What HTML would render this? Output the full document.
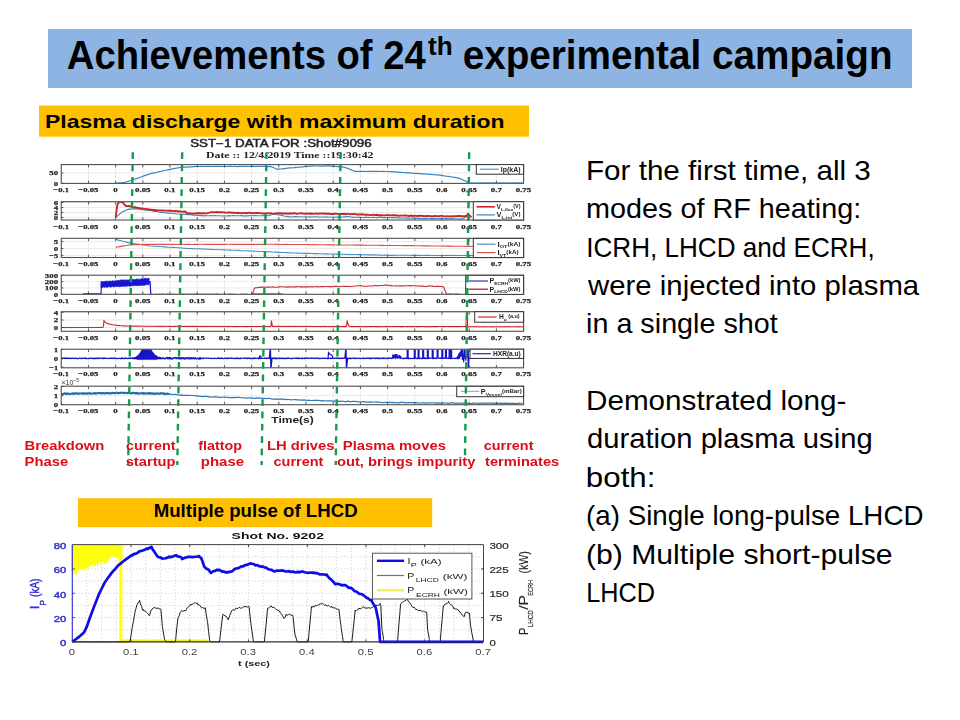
<!DOCTYPE html>
<html><head><meta charset="utf-8"><title>Achievements of 24th experimental campaign</title>
<style>html,body{margin:0;padding:0;background:#fff;width:960px;height:720px;overflow:hidden}
svg{display:block} text{font-family:"Liberation Sans",sans-serif} .sf{font-family:"Liberation Serif",serif}</style></head>
<body><svg width="960" height="720" viewBox="0 0 960 720">
<rect width="960" height="720" fill="#fff"/>
<rect x="48" y="29" width="864" height="59" fill="#8EB4E3"/>
<text x="66.84" y="68.6" font-size="40" fill="#000" font-weight="bold" textLength="358.87" lengthAdjust="spacingAndGlyphs" >Achievements of 24</text>
<text x="428" y="55" font-size="25" fill="#000" font-weight="bold" textLength="24.68" lengthAdjust="spacingAndGlyphs" >th</text>
<text x="462.67" y="68.6" font-size="40" fill="#000" font-weight="bold" textLength="429.86" lengthAdjust="spacingAndGlyphs" >experimental campaign</text>
<rect x="39" y="105.5" width="490" height="31.2" fill="#FFC000"/>
<text x="45.06" y="128.4" font-size="18.5" fill="#000" font-weight="bold" textLength="459.52" lengthAdjust="spacingAndGlyphs" >Plasma discharge with maximum duration</text>
<rect x="78" y="498.2" width="354.2" height="29" fill="#FFC000"/>
<text x="153.66" y="517.4" font-size="18" fill="#000" font-weight="bold" textLength="203.97" lengthAdjust="spacingAndGlyphs" >Multiple pulse of LHCD</text>
<text x="585.98" y="180" font-size="28" fill="#000" textLength="284.87" lengthAdjust="spacingAndGlyphs" >For the first time, all 3</text>
<text x="586.04" y="218.35" font-size="28" fill="#000" textLength="275.24" lengthAdjust="spacingAndGlyphs" >modes of RF heating:</text>
<text x="586.24" y="256.7" font-size="28" fill="#000" textLength="288.42" lengthAdjust="spacingAndGlyphs" >ICRH, LHCD and ECRH,</text>
<text x="588.1" y="295.05" font-size="28" fill="#000" textLength="331.05" lengthAdjust="spacingAndGlyphs" >were injected into plasma</text>
<text x="586.05" y="333.4" font-size="28" fill="#000" textLength="191.74" lengthAdjust="spacingAndGlyphs" >in a single shot</text>
<text x="585.98" y="410.1" font-size="28" fill="#000" textLength="260.48" lengthAdjust="spacingAndGlyphs" >Demonstrated long-</text>
<text x="587.06" y="448.45" font-size="28" fill="#000" textLength="285.58" lengthAdjust="spacingAndGlyphs" >duration plasma using</text>
<text x="585.87" y="486.8" font-size="28" fill="#000" textLength="69.58" lengthAdjust="spacingAndGlyphs" >both:</text>
<text x="586.12" y="525.15" font-size="28" fill="#000" textLength="337.3" lengthAdjust="spacingAndGlyphs" >(a) Single long-pulse LHCD</text>
<text x="585.95" y="563.5" font-size="28" fill="#000" textLength="306.7" lengthAdjust="spacingAndGlyphs" >(b) Multiple short-pulse</text>
<text x="586.29" y="601.85" font-size="28" fill="#000" textLength="68.82" lengthAdjust="spacingAndGlyphs" >LHCD</text>
<defs><filter id="soft" x="-2%" y="-2%" width="104%" height="104%"><feGaussianBlur stdDeviation="0.32"/></filter></defs>
<g filter="url(#soft)">
<text x="190.2" y="146.6" font-size="10" fill="#222" textLength="181.5" lengthAdjust="spacingAndGlyphs" stroke="#222" stroke-width="0.45">SST−1 DATA FOR :Shot#9096</text>
<text x="206" y="157.8" font-size="8.2" fill="#222" font-weight="bold" textLength="167.5" lengthAdjust="spacingAndGlyphs" class="sf">Date :: 12/4/2019  Time ::19:30:42</text>
<path d="M88.46,164.6V183.4 M115.65,164.6V183.4 M142.84,164.6V183.4 M170.04,164.6V183.4 M197.24,164.6V183.4 M224.43,164.6V183.4 M251.62,164.6V183.4 M278.82,164.6V183.4 M306.01,164.6V183.4 M333.21,164.6V183.4 M360.4,164.6V183.4 M387.6,164.6V183.4 M414.8,164.6V183.4 M441.99,164.6V183.4 M469.19,164.6V183.4 M496.38,164.6V183.4 M61.25,172.9H523.6" stroke="#e6e6e6" stroke-width="0.8" fill="none"/>
<clipPath id="c0"><rect x="61.25" y="164.6" width="462.35" height="18.8"/></clipPath>
<path d="M88.46,201.7V220 M115.65,201.7V220 M142.84,201.7V220 M170.04,201.7V220 M197.24,201.7V220 M224.43,201.7V220 M251.62,201.7V220 M278.82,201.7V220 M306.01,201.7V220 M333.21,201.7V220 M360.4,201.7V220 M387.6,201.7V220 M414.8,201.7V220 M441.99,201.7V220 M469.19,201.7V220 M496.38,201.7V220 M61.25,217.5H523.6 M61.25,212.5H523.6 M61.25,207.5H523.6 M61.25,202.5H523.6" stroke="#e6e6e6" stroke-width="0.8" fill="none"/>
<clipPath id="c1"><rect x="61.25" y="201.7" width="462.35" height="18.3"/></clipPath>
<path d="M88.46,238.3V257.5 M115.65,238.3V257.5 M142.84,238.3V257.5 M170.04,238.3V257.5 M197.24,238.3V257.5 M224.43,238.3V257.5 M251.62,238.3V257.5 M278.82,238.3V257.5 M306.01,238.3V257.5 M333.21,238.3V257.5 M360.4,238.3V257.5 M387.6,238.3V257.5 M414.8,238.3V257.5 M441.99,238.3V257.5 M469.19,238.3V257.5 M496.38,238.3V257.5 M61.25,255.4H523.6 M61.25,248.5H523.6 M61.25,241.6H523.6" stroke="#e6e6e6" stroke-width="0.8" fill="none"/>
<clipPath id="c2"><rect x="61.25" y="238.3" width="462.35" height="19.2"/></clipPath>
<path d="M88.46,275.2V294.3 M115.65,275.2V294.3 M142.84,275.2V294.3 M170.04,275.2V294.3 M197.24,275.2V294.3 M224.43,275.2V294.3 M251.62,275.2V294.3 M278.82,275.2V294.3 M306.01,275.2V294.3 M333.21,275.2V294.3 M360.4,275.2V294.3 M387.6,275.2V294.3 M414.8,275.2V294.3 M441.99,275.2V294.3 M469.19,275.2V294.3 M496.38,275.2V294.3 M61.25,287.93H523.6 M61.25,281.57H523.6" stroke="#e6e6e6" stroke-width="0.8" fill="none"/>
<clipPath id="c3"><rect x="61.25" y="275.2" width="462.35" height="19.1"/></clipPath>
<path d="M88.46,311.7V331.3 M115.65,311.7V331.3 M142.84,311.7V331.3 M170.04,311.7V331.3 M197.24,311.7V331.3 M224.43,311.7V331.3 M251.62,311.7V331.3 M278.82,311.7V331.3 M306.01,311.7V331.3 M333.21,311.7V331.3 M360.4,311.7V331.3 M387.6,311.7V331.3 M414.8,311.7V331.3 M441.99,311.7V331.3 M469.19,311.7V331.3 M496.38,311.7V331.3 M61.25,327.5H523.6 M61.25,320H523.6 M61.25,312.5H523.6" stroke="#e6e6e6" stroke-width="0.8" fill="none"/>
<clipPath id="c4"><rect x="61.25" y="311.7" width="462.35" height="19.6"/></clipPath>
<path d="M88.46,349.2V367.8 M115.65,349.2V367.8 M142.84,349.2V367.8 M170.04,349.2V367.8 M197.24,349.2V367.8 M224.43,349.2V367.8 M251.62,349.2V367.8 M278.82,349.2V367.8 M306.01,349.2V367.8 M333.21,349.2V367.8 M360.4,349.2V367.8 M387.6,349.2V367.8 M414.8,349.2V367.8 M441.99,349.2V367.8 M469.19,349.2V367.8 M496.38,349.2V367.8 M61.25,367.1H523.6 M61.25,358.3H523.6" stroke="#e6e6e6" stroke-width="0.8" fill="none"/>
<clipPath id="c5"><rect x="61.25" y="349.2" width="462.35" height="18.6"/></clipPath>
<path d="M88.46,386.2V404.7 M115.65,386.2V404.7 M142.84,386.2V404.7 M170.04,386.2V404.7 M197.24,386.2V404.7 M224.43,386.2V404.7 M251.62,386.2V404.7 M278.82,386.2V404.7 M306.01,386.2V404.7 M333.21,386.2V404.7 M360.4,386.2V404.7 M387.6,386.2V404.7 M414.8,386.2V404.7 M441.99,386.2V404.7 M469.19,386.2V404.7 M496.38,386.2V404.7 M61.25,395.6H523.6" stroke="#e6e6e6" stroke-width="0.8" fill="none"/>
<clipPath id="c6"><rect x="61.25" y="386.2" width="462.35" height="18.5"/></clipPath>
<g clip-path="url(#c0)">
<polyline points="115.65,183.33 117.83,183.14 120,182.83 122.18,182.71 124.35,182.31 126.53,181.73 128.7,181.18 130.88,180.5 133.05,179.89 135.23,179.04 137.41,178.32 139.58,177.53 141.76,176.69 143.93,175.84 146.11,175.18 148.28,174.38 150.46,173.67 152.64,173.12 154.81,172.69 156.99,172.23 159.16,171.63 161.34,171.29 163.51,170.66 165.69,170.26 167.86,169.79 170.04,169.33 172.22,168.92 174.39,168.46 176.57,168.19 178.74,167.74 180.92,167.36 183.09,167.22 185.27,167.08 187.44,167.04 189.62,166.93 191.8,166.79 193.97,166.59 196.15,166.52 198.32,166.48 200.5,166.44 202.67,166.46 204.85,166.49 207.03,166.4 209.2,166.42 211.38,166.49 213.55,166.44 215.73,166.45 217.9,166.39 220.08,166.41 222.25,166.49 224.43,166.37 226.61,166.52 228.78,166.47 230.96,166.41 233.13,166.51 235.31,166.45 237.48,166.53 239.66,166.42 241.83,166.41 244.01,166.44 246.19,166.39 248.36,166.48 250.54,166.42 252.71,166.44 254.89,166.44 257.06,166.46 259.24,166.4 261.42,166.38 263.59,166.46 265.77,166.42 267.94,166.53 270.12,166.42 272.29,167.05 274.47,168 276.64,169.21 278.82,169.16 281,169 283.17,168.71 285.35,168.54 287.52,168.19 289.7,167.96 291.87,167.8 294.05,167.63 296.22,167.34 298.4,167.27 300.58,167.06 302.75,166.81 304.93,166.49 307.1,166.39 309.28,166.1 311.45,166.03 313.63,165.97 315.81,165.98 317.98,165.98 320.16,166.07 322.33,166.05 324.51,166.06 326.68,165.97 328.86,165.96 331.03,166.09 333.21,166.09 335.39,166.31 337.56,166.53 339.74,166.72 341.91,166.93 344.09,167.21 346.26,167.83 348.44,168.68 350.61,169.62 352.79,170.51 354.97,171.37 357.14,171.41 359.32,171.44 361.49,171.42 363.67,171.41 365.84,171.52 368.02,171.38 370.2,171.4 372.37,171.38 374.55,171.39 376.72,171.46 378.9,171.46 381.07,171.51 383.25,171.42 385.42,171.52 387.6,171.52 389.78,171.53 391.95,171.7 394.13,171.83 396.3,172.04 398.48,172.21 400.65,172.35 402.83,172.52 405,172.64 407.18,172.86 409.36,172.88 411.53,173.07 413.71,173.3 415.88,173.43 418.06,173.57 420.23,173.72 422.41,173.91 424.59,173.94 426.76,174.07 428.94,174.3 431.11,174.45 433.29,174.67 435.46,174.82 437.64,174.93 439.81,175.18 441.99,175.41 444.17,175.85 446.34,176.19 448.52,176.36 450.69,176.75 452.87,177.14 455.04,177.4 457.22,177.81 459.39,178.38 461.57,179.29 463.75,180.3 465.92,181.32 468.1,182.61 470.27,183.32 472.45,183.36 474.62,183.25 476.8,183.29 478.98,183.25 481.15,183.33 483.33,183.35 485.5,183.25 487.68,183.22 489.85,183.24 492.03,183.25 494.2,183.25 496.38,183.26 498.56,183.35 500.73,183.3 502.91,183.32 505.08,183.38 507.26,183.38 509.43,183.34 511.61,183.34 513.78,183.27 515.96,183.22 518.14,183.31 520.31,183.23 522.49,183.22" fill="none" stroke="#3a86c0" stroke-width="1.2" stroke-linejoin="round" />
</g>
<g clip-path="url(#c1)">
<polyline points="115.65,217.32 117.28,216.12 118.91,214.74 120.55,213.3 122.18,211.87 123.81,211.24 125.44,210.45 127.07,209.71 128.7,209.11 130.34,209.13 131.97,208.94 133.6,208.76 135.23,208.92 136.86,208.88 138.49,208.98 140.13,209.22 141.76,209.43 143.39,209.74 145.02,210.05 146.65,210 148.28,210.4 149.92,210.45 151.55,210.63 153.18,211.1 154.81,211.34 156.44,211.37 158.07,211.7 159.71,212.16 161.34,212.42 162.97,212.65 164.6,212.6 166.23,212.88 167.86,213.27 169.5,213.13 171.13,213.19 172.76,213.45 174.39,213.7 176.02,213.75 177.65,214.05 179.29,214.22 180.92,213.97 182.55,214.23 184.18,214.4 185.81,214.36 187.44,214.67 189.08,214.61 190.71,214.74 192.34,215.09 193.97,215.19 195.6,215.28 197.24,215.41 198.87,215.38 200.5,215.63 202.13,215.67 203.76,215.9 205.39,215.59 207.03,215.81 208.66,215.77 210.29,215.72 211.92,215.59 213.55,215.78 215.18,215.58 216.82,215.75 218.45,215.74 220.08,215.74 221.71,215.94 223.34,215.77 224.97,215.88 226.61,215.95 228.24,215.63 229.87,215.88 231.5,215.76 233.13,215.66 234.76,215.73 236.4,215.82 238.03,215.74 239.66,215.73 241.29,215.64 242.92,215.91 244.55,215.73 246.19,215.85 247.82,215.84 249.45,215.64 251.08,215.75 252.71,215.73 254.34,215.65 255.98,215.59 257.61,215.77 259.24,215.7 260.87,215.75 262.5,215.75 264.13,215.67 265.77,215.77 267.4,215.74 269.03,215.76 270.66,215.07 272.29,214.42 273.92,213.95 275.56,214.22 277.19,214.8 278.82,214.98 280.45,215.09 282.08,215.39 283.72,215.93 285.35,216.2 286.98,216.34 288.61,216.75 290.24,216.86 291.87,216.94 293.51,216.71 295.14,216.67 296.77,216.64 298.4,216.95 300.03,216.73 301.66,216.77 303.3,216.99 304.93,216.7 306.56,216.68 308.19,216.99 309.82,216.71 311.45,216.94 313.09,216.92 314.72,216.73 316.35,216.8 317.98,217.08 319.61,216.98 321.24,216.96 322.88,217.04 324.51,217.11 326.14,217.07 327.77,216.92 329.4,217.22 331.03,217.01 332.67,217.07 334.3,217.25 335.93,217.14 337.56,217.03 339.19,217.09 340.82,217.28 342.46,216.92 344.09,217.01 345.72,216.66 347.35,216.72 348.98,216.59 350.61,217.06 352.25,217.14 353.88,217.35 355.51,217.42 357.14,217.32 358.77,217.13 360.41,217.18 362.04,217.42 363.67,217.47 365.3,217.17 366.93,217.33 368.56,217.29 370.2,217.54 371.83,217.57 373.46,217.32 375.09,217.44 376.72,217.59 378.35,217.26 379.99,217.39 381.62,217.34 383.25,217.64 384.88,217.34 386.51,217.67 388.14,217.37 389.78,217.57 391.41,217.66 393.04,217.62 394.67,217.51 396.3,217.82 397.93,217.91 399.57,217.79 401.2,217.95 402.83,218.05 404.46,218.07 406.09,218.15 407.72,218.13 409.36,218.13 410.99,218.18 412.62,218.04 414.25,218.26 415.88,218.22 417.51,218.39 419.15,218.37 420.78,218.54 422.41,218.49 424.04,218.62 425.67,218.38 427.3,218.49 428.94,218.68 430.57,218.61 432.2,218.47 433.83,218.84 435.46,218.59 437.09,218.78 438.73,218.75 440.36,218.62 441.99,218.79 443.62,218.75 445.25,218.67 446.89,218.56 448.52,218.81 450.15,218.62 451.78,218.67 453.41,218.7 455.04,218.79 456.68,218.81 458.31,218.93 459.94,218.9 461.57,218.92 463.2,218.65 464.83,217.47 466.47,215.45 468.1,213.42 469.73,215.66 471.36,217.6" fill="none" stroke="#3a86c0" stroke-width="1.1" stroke-linejoin="round" />
<polyline points="115.65,217.4 117.28,205.13 118.91,201.93 120.55,201.99 122.18,201.97 123.81,203.96 125.44,205.73 127.07,206.14 128.7,206.02 130.34,206.32 131.97,206.87 133.6,207.31 135.23,207.12 136.86,207.76 138.49,207.97 140.13,208.42 141.76,208.44 143.39,208.62 145.02,208.85 146.65,209.27 148.28,209.29 149.92,209.72 151.55,209.7 153.18,209.94 154.81,209.88 156.44,210.23 158.07,210.37 159.71,210.34 161.34,210.51 162.97,210.43 164.6,210.6 166.23,210.6 167.86,210.74 169.5,210.79 171.13,210.78 172.76,211.16 174.39,211.28 176.02,210.97 177.65,211.56 179.29,211.3 180.92,211.44 182.55,211.88 184.18,211.49 185.81,211.95 187.44,213.42 189.08,213.36 190.71,213.31 192.34,213.72 193.97,213.49 195.6,213.5 197.24,213.3 198.87,213.32 200.5,213.3 202.13,213.45 203.76,213.26 205.39,213.39 207.03,213.38 208.66,212.91 210.29,212.32 211.92,212.3 213.55,212.22 215.18,212.42 216.82,212.04 218.45,212.25 220.08,212.26 221.71,212.31 223.34,212.33 224.97,212.5 226.61,212.84 228.24,212.41 229.87,212.5 231.5,212.69 233.13,212.72 234.76,212.7 236.4,213.11 238.03,212.76 239.66,213.1 241.29,213.26 242.92,213.16 244.55,212.9 246.19,213.23 247.82,212.92 249.45,212.8 251.08,213.1 252.71,213.19 254.34,213.15 255.98,213.04 257.61,213.01 259.24,213.12 260.87,213.12 262.5,213.47 264.13,213.45 265.77,213.4 267.4,213.12 269.03,213.4 270.66,213.26 272.29,213.61 273.92,213.6 275.56,213.49 277.19,213.27 278.82,213.27 280.45,213.3 282.08,213.55 283.72,213.43 285.35,213.48 286.98,213.49 288.61,213.72 290.24,213.27 291.87,213.69 293.51,213.23 295.14,213.27 296.77,213.83 298.4,213.57 300.03,213.36 301.66,213.28 303.3,213.6 304.93,213.72 306.56,213.76 308.19,213.33 309.82,213.78 311.45,213.56 313.09,213.83 314.72,213.61 316.35,213.36 317.98,213.86 319.61,213.46 321.24,213.66 322.88,213.44 324.51,213.56 326.14,213.85 327.77,213.46 329.4,213.71 331.03,214 332.67,214.02 334.3,213.73 335.93,213.77 337.56,213.86 339.19,213.98 340.82,213.92 342.46,213.99 344.09,213.73 345.72,214.28 347.35,213.89 348.98,213.89 350.61,214.38 352.25,213.95 353.88,214.13 355.51,214.07 357.14,214.49 358.77,214.49 360.41,214.54 362.04,214.23 363.67,214.53 365.3,214.72 366.93,214.73 368.56,214.88 370.2,215.07 371.83,215.09 373.46,214.7 375.09,215.09 376.72,214.75 378.35,215.22 379.99,215.26 381.62,215.17 383.25,215.42 384.88,215.36 386.51,215.07 388.14,215.15 389.78,215.22 391.41,215.35 393.04,215.21 394.67,215.22 396.3,215.48 397.93,215.4 399.57,215.83 401.2,215.44 402.83,215.64 404.46,215.48 406.09,215.57 407.72,215.81 409.36,215.98 410.99,215.48 412.62,215.98 414.25,215.8 415.88,215.9 417.51,215.95 419.15,215.71 420.78,215.6 422.41,216.05 424.04,215.84 425.67,216.08 427.3,215.95 428.94,216.07 430.57,216.23 432.2,216.26 433.83,216.26 435.46,215.86 437.09,216.13 438.73,216.29 440.36,215.88 441.99,215.83 443.62,216.16 445.25,216.34 446.89,216.31 448.52,216.37 450.15,216.22 451.78,216.37 453.41,216.28 455.04,216.27 456.68,216.08 458.31,215.89 459.94,215.98 461.57,216.18 463.2,216.18 464.83,216.11 466.47,216.2 468.1,213.85 469.73,215.89 471.36,217.01" fill="none" stroke="#c8262c" stroke-width="1.9" stroke-linejoin="round" />
</g>
<g clip-path="url(#c2)">
<polyline points="115.65,239.33 118.37,240.13 121.09,240.77 123.81,241.44 126.53,242.1 129.25,242.88 131.97,243.33 134.69,243.74 137.41,244.12 140.13,244.52 142.84,244.85 145.56,245.27 148.28,245.67 151,246.05 153.72,246.23 156.44,246.32 159.16,246.47 161.88,246.71 164.6,246.87 167.32,247.13 170.04,247.26 172.76,247.36 175.48,247.56 178.2,247.73 180.92,247.9 183.64,248.18 186.36,248.37 189.08,248.55 191.8,248.6 194.52,248.69 197.24,248.76 199.95,248.9 202.67,249.02 205.39,249.11 208.11,249.26 210.83,249.35 213.55,249.53 216.27,249.54 218.99,249.72 221.71,249.73 224.43,249.88 227.15,250.03 229.87,250.17 232.59,250.26 235.31,250.31 238.03,250.41 240.75,250.6 243.47,250.71 246.19,250.76 248.91,250.86 251.63,251.02 254.34,251.17 257.06,251.24 259.78,251.45 262.5,251.54 265.22,251.65 267.94,251.71 270.66,251.88 273.38,251.98 276.1,252.16 278.82,252.33 281.54,252.45 284.26,252.48 286.98,252.65 289.7,252.83 292.42,253 295.14,253.06 297.86,253.17 300.58,253.27 303.3,253.35 306.02,253.36 308.73,253.39 311.45,253.55 314.17,253.64 316.89,253.67 319.61,253.72 322.33,253.75 325.05,253.88 327.77,253.86 330.49,253.93 333.21,254.03 335.93,254.13 338.65,254.09 341.37,254.25 344.09,254.24 346.81,254.38 349.53,254.44 352.25,254.43 354.97,254.55 357.69,254.52 360.41,254.65 363.12,254.75 365.84,254.81 368.56,254.84 371.28,254.87 374,254.89 376.72,255.07 379.44,255.09 382.16,255.18 384.88,255.14 387.6,255.31 390.32,255.33 393.04,255.34 395.76,255.3 398.48,255.24 401.2,255.26 403.92,255.29 406.64,255.26 409.36,255.28 412.08,255.37 414.8,255.4 417.51,255.3 420.23,255.34 422.95,255.45 425.67,255.37 428.39,255.42 431.11,255.43 433.83,255.44 436.55,255.48 439.27,255.51 441.99,255.48 444.71,255.48 447.43,255.4 450.15,255.53 452.87,255.42 455.59,255.54 458.31,255.52 461.03,255.47 463.75,255.48 466.47,255.54 469.19,255.6 471.9,255.55 474.62,255.57" fill="none" stroke="#4a90c8" stroke-width="1.1" stroke-linejoin="round" />
<polyline points="115.65,247.2 118.37,246.85 121.09,246.37 123.81,245.85 126.53,245.52 129.25,245.01 131.97,244.77 134.69,244.65 137.41,244.62 140.13,244.5 142.84,244.42 145.56,244.3 148.28,244.39 151,244.33 153.72,244.3 156.44,244.38 159.16,244.39 161.88,244.3 164.6,244.34 167.32,244.39 170.04,244.33 172.76,244.39 175.48,244.39 178.2,244.43 180.92,244.32 183.64,244.3 186.36,244.34 189.08,244.3 191.8,244.43 194.52,244.4 197.24,244.36 199.95,244.3 202.67,244.3 205.39,244.38 208.11,244.39 210.83,244.37 213.55,244.36 216.27,244.3 218.99,244.4 221.71,244.32 224.43,244.33 227.15,244.32 229.87,244.32 232.59,244.35 235.31,244.38 238.03,244.38 240.75,244.38 243.47,244.32 246.19,244.42 248.91,244.4 251.63,244.33 254.34,244.39 257.06,244.42 259.78,244.42 262.5,244.35 265.22,244.38 267.94,244.29 270.66,244.31 273.38,244.29 276.1,244.39 278.82,244.42 281.54,244.44 284.26,244.41 286.98,244.41 289.7,244.47 292.42,244.52 295.14,244.52 297.86,244.52 300.58,244.54 303.3,244.55 306.02,244.56 308.73,244.61 311.45,244.71 314.17,244.64 316.89,244.74 319.61,244.73 322.33,244.78 325.05,244.75 327.77,244.85 330.49,244.87 333.21,244.9 335.93,244.93 338.65,244.86 341.37,244.93 344.09,244.99 346.81,245.01 349.53,244.96 352.25,245.06 354.97,245.12 357.69,245.07 360.41,245.12 363.12,245.11 365.84,245.26 368.56,245.23 371.28,245.22 374,245.24 376.72,245.26 379.44,245.41 382.16,245.4 384.88,245.46 387.6,245.48 390.32,245.4 393.04,245.48 395.76,245.46 398.48,245.57 401.2,245.53 403.92,245.61 406.64,245.67 409.36,245.63 412.08,245.63 414.8,245.78 417.51,245.74 420.23,245.77 422.95,245.85 425.67,245.86 428.39,245.92 431.11,245.94 433.83,245.96 436.55,245.94 439.27,245.96 441.99,246.05 444.71,246.11 447.43,246.1 450.15,246.08 452.87,246.17 455.59,246.18 458.31,246.23 461.03,246.18 463.75,246.24 466.47,246.33 469.19,246.35 471.9,246.31 474.62,246.29" fill="none" stroke="#d9534f" stroke-width="1.1" stroke-linejoin="round" />
</g>
<g clip-path="url(#c3)">
<polygon points="100.96,281.59 101.78,281.9 102.6,281.65 103.41,281.68 104.23,281.62 105.04,281.53 105.86,281.08 106.68,281.41 107.49,281.08 108.31,281.57 109.12,281.2 109.94,281.16 110.75,281.06 111.57,281.35 112.39,280.81 113.2,281.18 114.02,280.91 114.83,281.03 115.65,280.68 116.47,280.94 117.28,280.36 118.1,280.77 118.91,280.14 119.73,280.44 120.55,280.04 121.36,280.01 122.18,280.01 122.99,279.99 123.81,280.22 124.62,279.84 125.44,280.25 126.26,279.97 127.07,280.22 127.89,279.7 128.7,280.17 129.52,279.57 130.34,279.45 131.15,279.58 131.97,279.5 132.78,279.6 133.6,279.54 134.41,279.47 135.23,279.74 136.05,279.33 136.86,279.06 137.68,279.24 138.49,279.18 139.31,279.38 140.13,279.36 140.94,278.98 141.76,278.83 142.57,278.7 143.39,278.82 144.2,278.77 145.02,278.37 145.84,278.39 146.65,278.43 147.47,278.78 148.28,278.5 149.1,278.12 149.1,285.05 148.28,284.49 147.47,284.52 146.65,284.69 145.84,284.59 145.02,285.3 144.2,285.16 143.39,285.45 142.57,284.94 141.76,285.51 140.94,285.59 140.13,285.33 139.31,285.38 138.49,285.67 137.68,285.66 136.86,285.25 136.05,285.71 135.23,285.46 134.41,285.64 133.6,285.52 132.78,285.62 131.97,285.88 131.15,285.74 130.34,286.11 129.52,286.22 128.7,285.86 127.89,285.65 127.07,286.19 126.26,286.13 125.44,286.16 124.62,286.37 123.81,285.91 122.99,286.43 122.18,286.52 121.36,286.22 120.55,286.44 119.73,286.74 118.91,286.08 118.1,286.77 117.28,286.18 116.47,286.58 115.65,286.3 114.83,286.83 114.02,286.71 113.2,286.66 112.39,286.49 111.57,286.81 110.75,287.15 109.94,286.64 109.12,286.73 108.31,286.72 107.49,287.29 106.68,287.34 105.86,286.78 105.04,287.27 104.23,287.19 103.41,286.94 102.6,287.5 101.78,287.23 100.96,287.74" fill="#1515d0" stroke="#1515d0" stroke-width="0.8"/>
<polyline points="83.02,293.79 100.96,293.79 101.51,284.75 102.05,281.25" fill="none" stroke="#1515d0" stroke-width="1.1" stroke-linejoin="round" />
<polyline points="148.83,281.57 150.19,281.57 150.73,294.3" fill="none" stroke="#1515d0" stroke-width="1.2" stroke-linejoin="round" />
<polyline points="252.5,294.17 282.63,294.17" fill="none" stroke="#1515d0" stroke-width="1.1" stroke-linejoin="round" />
<polyline points="149.92,294.15 151.55,294.08 153.18,294.52 154.81,294.38 156.44,294.17 158.07,294.47 159.71,294.1 161.34,294.41 162.97,294.14 164.6,294.48 166.23,294.3 167.86,294.09 169.5,294.45 171.13,294.42 172.76,294.3 174.39,294.39 176.02,294.54 177.65,294.46 179.29,294.47 180.92,294.08 182.55,294.21 184.18,294.1 185.81,294.47 187.44,294.15 189.08,294.5 190.71,294.28 192.34,294.23 193.97,294.37 195.6,294.11 197.24,294.27 198.87,294.26 200.5,294.11 202.13,294.5 203.76,294.05 205.39,294.23 207.03,294.35 208.66,294.15 210.29,294.42 211.92,294.05 213.55,294.26 215.18,294.37 216.82,294.17 218.45,294.33 220.08,294.46 221.71,294.18 223.34,294.53 224.97,294.14 226.61,294.43 228.24,294.23 229.87,294.05 231.5,294.26 233.13,294.22 234.76,294.4 236.4,294.55 238.03,294.54 239.66,294.48 241.29,294.24 242.92,294.33 244.55,294.29 246.19,294.1 247.82,294.49 249.45,294.44 251.08,294.22 252.71,293.67 254.34,288.14 255.98,287.71 257.61,287.58 259.24,287.34 260.87,287.36 262.5,287.13 264.13,287.1 265.77,287.28 267.4,287.04 269.03,287.1 270.66,287.25 272.29,286.82 273.92,287.15 275.56,287.18 277.19,287.18 278.82,286.9 280.45,286.77 282.08,286.8 283.72,286.99 285.35,287.04 286.98,287.16 288.61,286.83 290.24,286.86 291.87,286.96 293.51,286.8 295.14,286.89 296.77,286.63 298.4,286.72 300.03,286.96 301.66,286.61 303.3,287.04 304.93,286.78 306.56,286.83 308.19,286.9 309.82,286.98 311.45,286.59 313.09,286.97 314.72,286.68 316.35,286.47 317.98,286.86 319.61,286.81 321.24,286.59 322.88,286.63 324.51,286.54 326.14,286.44 327.77,286.75 329.4,286.67 331.03,286.65 332.67,286.77 334.3,286.32 335.93,286.35 337.56,286.36 339.19,286.69 340.82,286.24 342.46,286.26 344.09,286.38 345.72,286.21 347.35,286.34 348.98,286.43 350.61,286.43 352.25,286.29 353.88,286.31 355.51,286.08 357.14,285.79 358.77,285.75 360.41,285.59 362.04,285.81 363.67,286.19 365.3,286.2 366.93,286.25 368.56,285.99 370.2,286.03 371.83,286.08 373.46,285.8 375.09,285.55 376.72,285.84 378.35,285.42 379.99,285.77 381.62,285.56 383.25,285.48 384.88,285.14 386.51,285.12 388.14,285.32 389.78,285.62 391.41,285.43 393.04,285.81 394.67,285.94 396.3,285.69 397.93,285.93 399.57,285.91 401.2,285.9 402.83,285.71 404.46,285.95 406.09,285.73 407.72,285.78 409.36,285.67 410.99,285.86 412.62,285.69 414.25,285.74 415.88,285.92 417.51,286.04 419.15,285.91 420.78,286.26 422.41,285.92 424.04,286.38 425.67,286.52 427.3,286.36 428.94,285.83 430.57,286.01 432.2,286.16 433.83,286.33 435.46,286.45 437.09,286.24 438.73,286.38 440.36,286.47 441.99,286.56 443.62,287.01 445.25,291.25 446.89,294.37 448.52,294.14 450.15,294.14 451.78,294.1 453.41,294.52 455.04,294.11 456.68,294.09 458.31,294.07 459.94,294.5 461.57,294.45 463.2,294.5" fill="none" stroke="#c0303a" stroke-width="1.1" stroke-linejoin="round" />
</g>
<g clip-path="url(#c4)">
<polyline points="61.26,327.6 61.7,327.42 62.13,327.43 62.57,327.47 63,327.43 63.44,327.47 63.87,327.55 64.31,327.59 64.74,327.59 65.18,327.44 65.61,327.57 66.05,327.54 66.48,327.52 66.92,327.61 67.35,327.55 67.79,327.55 68.22,327.45 68.66,327.53 69.09,327.54 69.53,327.4 69.96,327.5 70.4,327.42 70.83,327.47 71.27,327.61 71.7,327.52 72.14,327.51 72.57,327.44 73.01,327.53 73.44,327.45 73.88,327.49 74.31,327.56 74.75,327.42 75.18,327.59 75.62,327.43 76.05,327.57 76.49,327.61 76.92,327.57 77.36,327.44 77.79,327.39 78.23,327.61 78.66,327.5 79.1,327.5 79.54,327.43 79.97,327.57 80.41,327.5 80.84,327.53 81.28,327.43 81.71,327.55 82.15,327.4 82.58,327.55 83.02,327.56 83.45,327.46 83.89,327.5 84.32,327.59 84.76,327.47 85.19,327.59 85.63,327.44 86.06,327.46 86.5,327.44 86.93,327.47 87.37,327.53 87.8,327.52 88.24,327.52 88.67,327.41 89.11,327.59 89.54,327.41 89.98,327.61 90.41,327.57 90.85,327.55 91.28,327.41 91.72,327.5 92.15,327.53 92.59,327.41 93.02,327.56 93.46,327.51 93.89,327.49 94.33,327.44 94.76,327.44 95.2,327.47 95.63,327.53 96.07,327.54 96.5,327.58 96.94,327.42 97.37,327.46 97.81,327.45 98.25,327.57 98.68,327.51 99.12,327.44 99.55,327.48 99.99,327.58 100.42,327.51 100.86,327.41 101.29,327.56 101.73,327.57 102.16,327.54 102.6,327.45 103.03,327.42 103.47,326.08 103.9,320.38 104.34,320.96 104.77,321.54 105.21,322.1 105.64,322.55 106.08,322.81 106.51,323.14 106.95,323.27 107.38,323.62 107.82,323.9 108.25,323.79 108.69,324.06 109.12,324.08 109.56,324.02 109.99,324.14 110.43,324.24 110.86,324.38 111.3,324.52 111.73,324.5 112.17,324.7 112.6,324.76 113.04,324.8 113.47,324.95 113.91,324.95 114.34,324.94 114.78,325.05 115.21,325.17 115.65,325.22 116.09,325.3 116.52,325.42 116.96,325.36 117.39,325.45 117.83,325.42 118.26,325.43 118.7,325.58 119.13,325.59 119.57,325.6 120,325.72 120.44,325.81 120.87,325.74 121.31,325.73 121.74,325.77 122.18,325.79 122.61,325.77 123.05,325.82 123.48,325.84 123.92,325.89 124.35,325.93 124.79,325.87 125.22,326 125.66,325.94 126.09,325.86 126.53,325.89 126.96,325.92 127.4,326.01 127.83,325.98 128.27,325.99 128.7,325.96 129.14,326.02 129.57,325.97 130.01,325.92 130.44,326.1 130.88,326 131.31,325.98 131.75,326.08 132.18,326.07 132.62,325.97 133.05,326.19 133.49,326.09 133.93,326.18 134.36,326.05 134.8,326.03 135.23,326.13 135.67,326.24 136.1,326.14 136.54,326.16 136.97,326.13 137.41,326.18 137.84,326.16 138.28,326.12 138.71,326.19 139.15,326.22 139.58,326.1 140.02,326.27 140.45,326.16 140.89,326.23 141.32,326.15 141.76,326.3 142.19,326.11 142.63,326.25 143.06,326.32 143.5,326.27 143.93,326.25 144.37,326.34 144.8,326.25 145.24,326.25 145.67,326.19 146.11,326.27 146.54,326.29 146.98,326.3 147.41,326.19 147.85,326.15 148.28,326.24 148.72,326.32 149.15,326.19 149.59,326.28 150.02,326.32 150.46,326.35 150.89,326.2 151.33,326.2 151.76,326.24 152.2,326.28 152.64,326.26 153.07,326.34 153.51,326.18 153.94,326.32 154.38,326.25 154.81,326.22 155.25,326.22 155.68,326.3 156.12,326.34 156.55,326.29 156.99,326.38 157.42,326.23 157.86,326.34 158.29,326.23 158.73,326.36 159.16,326.34 159.6,326.37 160.03,326.33 160.47,326.39 160.9,326.43 161.34,326.28 161.77,326.38 162.21,326.39 162.64,326.38 163.08,326.34 163.51,326.35 163.95,326.31 164.38,326.31 164.82,326.38 165.25,326.25 165.69,326.27 166.12,326.45 166.56,326.28 166.99,326.27 167.43,326.3 167.86,326.44 168.3,326.29 168.73,326.34 169.17,326.48 169.6,326.48 170.04,326.27 170.48,326.34 170.91,326.43 171.35,326.47 171.78,326.46 172.22,326.44 172.65,326.32 173.09,326.42 173.52,326.46 173.96,326.29 174.39,326.32 174.83,326.46 175.26,326.3 175.7,326.36 176.13,326.32 176.57,326.35 177,326.3 177.44,326.32 177.87,326.31 178.31,326.46 178.74,326.35 179.18,326.39 179.61,326.34 180.05,326.41 180.48,326.31 180.92,326.38 181.35,326.45 181.79,326.46 182.22,326.48 182.66,326.4 183.09,326.5 183.53,326.41 183.96,326.48 184.4,326.4 184.83,326.4 185.27,326.39 185.7,326.32 186.14,326.52 186.57,326.33 187.01,326.41 187.44,326.39 187.88,326.37 188.32,326.33 188.75,326.44 189.19,326.43 189.62,326.31 190.06,326.51 190.49,326.38 190.93,326.38 191.36,326.52 191.8,326.39 192.23,326.38 192.67,326.32 193.1,326.46 193.54,326.31 193.97,326.42 194.41,326.42 194.84,326.33 195.28,326.53 195.71,326.37 196.15,326.4 196.58,326.46 197.02,326.34 197.45,326.46 197.89,326.43 198.32,326.42 198.76,326.37 199.19,326.49 199.63,326.44 200.06,326.45 200.5,326.42 200.93,326.36 201.37,326.48 201.8,326.36 202.24,326.46 202.67,326.43 203.11,326.49 203.54,326.44 203.98,326.33 204.41,326.4 204.85,326.37 205.28,326.48 205.72,326.48 206.15,326.49 206.59,326.42 207.03,326.41 207.46,326.38 207.9,326.55 208.33,326.4 208.77,326.36 209.2,326.44 209.64,326.55 210.07,326.49 210.51,326.56 210.94,326.52 211.38,326.36 211.81,326.43 212.25,326.42 212.68,326.39 213.12,326.36 213.55,326.43 213.99,326.43 214.42,326.43 214.86,326.41 215.29,326.44 215.73,326.42 216.16,326.53 216.6,326.42 217.03,326.47 217.47,326.4 217.9,326.55 218.34,326.54 218.77,326.57 219.21,326.4 219.64,326.37 220.08,326.43 220.51,326.5 220.95,326.4 221.38,326.41 221.82,326.46 222.25,326.53 222.69,326.52 223.12,326.49 223.56,326.52 223.99,326.49 224.43,326.44 224.87,326.38 225.3,326.58 225.74,326.46 226.17,326.58 226.61,326.57 227.04,326.41 227.48,326.46 227.91,326.39 228.35,326.5 228.78,326.59 229.22,326.51 229.65,326.47 230.09,326.39 230.52,326.38 230.96,326.49 231.39,326.51 231.83,326.58 232.26,326.46 232.7,326.56 233.13,326.57 233.57,326.6 234,326.61 234.44,326.45 234.87,326.58 235.31,326.39 235.74,326.59 236.18,326.41 236.61,326.58 237.05,326.61 237.48,326.45 237.92,326.56 238.35,326.45 238.79,326.57 239.22,326.6 239.66,326.44 240.09,326.46 240.53,326.43 240.96,326.46 241.4,326.6 241.83,326.48 242.27,326.46 242.71,326.52 243.14,326.41 243.58,326.57 244.01,326.41 244.45,326.46 244.88,326.62 245.32,326.62 245.75,326.48 246.19,326.45 246.62,326.61 247.06,326.56 247.49,326.47 247.93,326.59 248.36,326.44 248.8,326.52 249.23,326.62 249.67,326.55 250.1,326.51 250.54,326.54 250.97,326.49 251.41,326.61 251.84,326.46 252.28,326.56 252.71,326.5 253.15,326.5 253.58,326.55 254.02,326.56 254.45,326.47 254.89,326.43 255.32,326.47 255.76,326.52 256.19,326.58 256.63,326.63 257.06,326.43 257.5,326.49 257.93,326.46 258.37,326.58 258.8,326.52 259.24,326.43 259.67,326.47 260.11,326.52 260.54,326.59 260.98,326.56 261.42,326.46 261.85,326.57 262.29,326.5 262.72,326.52 263.16,326.46 263.59,326.48 264.03,326.6 264.46,326.66 264.9,326.6 265.33,326.57 265.77,326.53 266.2,326.48 266.64,326.47 267.07,326.66 267.51,326.48 267.94,326.49 268.38,326.48 268.81,326.54 269.25,326.61 269.68,326.48 270.12,326.49 270.55,326.52 270.99,325.81 271.42,320.69 271.86,323.07 272.29,326.36 272.73,326.31 273.16,326.44 273.6,326.32 274.03,326.28 274.47,326.44 274.9,326.36 275.34,326.34 275.77,326.39 276.21,326.45 276.64,326.44 277.08,326.33 277.51,326.32 277.95,326.4 278.38,326.48 278.82,326.32 279.26,326.33 279.69,326.45 280.13,326.38 280.56,326.31 281,326.31 281.43,326.39 281.87,326.4 282.3,326.38 282.74,326.47 283.17,326.47 283.61,326.48 284.04,326.36 284.48,326.44 284.91,326.39 285.35,326.43 285.78,326.41 286.22,326.49 286.65,326.51 287.09,326.3 287.52,326.44 287.96,326.5 288.39,326.39 288.83,326.35 289.26,326.5 289.7,326.4 290.13,326.45 290.57,326.42 291,326.53 291.44,326.53 291.87,326.31 292.31,326.34 292.74,326.43 293.18,326.41 293.61,326.48 294.05,326.37 294.48,326.45 294.92,326.33 295.35,326.37 295.79,326.36 296.22,326.33 296.66,326.49 297.1,326.54 297.53,326.51 297.97,326.51 298.4,326.53 298.84,326.54 299.27,326.43 299.71,326.36 300.14,326.45 300.58,326.35 301.01,326.36 301.45,326.55 301.88,326.43 302.32,326.47 302.75,326.54 303.19,326.35 303.62,326.51 304.06,326.44 304.49,326.42 304.93,326.35 305.36,326.42 305.8,326.48 306.23,326.47 306.67,326.54 307.1,326.36 307.54,326.35 307.97,326.53 308.41,326.57 308.84,326.52 309.28,326.5 309.71,326.38 310.15,326.38 310.58,326.4 311.02,326.57 311.45,326.41 311.89,326.43 312.32,326.44 312.76,326.37 313.19,326.58 313.63,326.56 314.06,326.42 314.5,326.38 314.93,326.44 315.37,326.53 315.81,326.46 316.24,326.43 316.68,326.58 317.11,326.53 317.55,326.54 317.98,326.57 318.42,326.5 318.85,326.57 319.29,326.55 319.72,326.58 320.16,326.46 320.59,326.61 321.03,326.45 321.46,326.57 321.9,326.6 322.33,326.41 322.77,326.57 323.2,326.41 323.64,326.42 324.07,326.42 324.51,326.59 324.94,326.52 325.38,326.6 325.81,326.41 326.25,326.43 326.68,326.48 327.12,326.52 327.55,326.55 327.99,326.44 328.42,326.52 328.86,326.49 329.29,326.6 329.73,326.58 330.16,326.62 330.6,326.47 331.03,326.51 331.47,326.6 331.9,326.44 332.34,326.58 332.77,326.55 333.21,326.61 333.65,326.58 334.08,326.45 334.52,326.57 334.95,326.61 335.39,326.54 335.82,326.58 336.26,326.45 336.69,326.62 337.13,326.43 337.56,326.64 338,326.45 338.43,326.5 338.87,326.61 339.3,326.55 339.74,326.59 340.17,326.6 340.61,326.61 341.04,326.58 341.48,326.44 341.91,326.44 342.35,326.46 342.78,326.64 343.22,326.6 343.65,326.47 344.09,326.66 344.52,326.51 344.96,326.6 345.39,326.45 345.83,326.67 346.26,326.49 346.7,324.74 347.13,320.67 347.57,322.44 348,324 348.44,325.81 348.87,326.03 349.31,326.13 349.74,326.17 350.18,326.48 350.61,326.55 351.05,326.64 351.49,326.63 351.92,326.5 352.36,326.51 352.79,326.63 353.23,326.66 353.66,326.66 354.1,326.54 354.53,326.56 354.97,326.61 355.4,326.63 355.84,326.54 356.27,326.52 356.71,326.49 357.14,326.54 357.58,326.63 358.01,326.66 358.45,326.51 358.88,326.58 359.32,326.51 359.75,326.66 360.19,326.49 360.62,326.6 361.06,326.49 361.49,326.48 361.93,326.56 362.36,326.67 362.8,326.47 363.23,326.57 363.67,326.48 364.1,326.62 364.54,326.63 364.97,326.49 365.41,326.59 365.84,326.64 366.28,326.59 366.71,326.54 367.15,326.67 367.58,326.56 368.02,326.57 368.45,326.56 368.89,326.65 369.32,326.51 369.76,326.49 370.2,326.48 370.63,326.6 371.07,326.51 371.5,326.59 371.94,326.51 372.37,326.66 372.81,326.48 373.24,326.46 373.68,326.56 374.11,326.56 374.55,326.56 374.98,326.55 375.42,326.67 375.85,326.46 376.29,326.62 376.72,326.63 377.16,326.65 377.59,326.62 378.03,326.49 378.46,326.67 378.9,326.65 379.33,326.52 379.77,326.63 380.2,326.67 380.64,326.54 381.07,326.55 381.51,326.56 381.94,326.52 382.38,326.65 382.81,326.48 383.25,326.51 383.68,326.66 384.12,326.65 384.55,326.56 384.99,326.56 385.42,326.61 385.86,326.65 386.29,326.58 386.73,326.64 387.16,326.54 387.6,326.48 388.04,326.64 388.47,326.55 388.91,326.51 389.34,326.64 389.78,326.49 390.21,326.46 390.65,326.59 391.08,326.58 391.52,326.49 391.95,326.56 392.39,326.59 392.82,326.46 393.26,326.5 393.69,326.6 394.13,326.62 394.56,326.6 395,326.58 395.43,326.45 395.87,326.49 396.3,326.47 396.74,326.49 397.17,326.48 397.61,326.66 398.04,326.56 398.48,326.46 398.91,326.46 399.35,326.62 399.78,326.58 400.22,326.53 400.65,326.59 401.09,326.56 401.52,326.66 401.96,326.58 402.39,326.56 402.83,326.67 403.26,326.64 403.7,326.46 404.13,326.5 404.57,326.46 405,326.53 405.44,326.49 405.88,326.48 406.31,326.48 406.75,326.67 407.18,326.53 407.62,326.62 408.05,326.52 408.49,326.61 408.92,326.55 409.36,326.47 409.79,326.54 410.23,326.62 410.66,326.56 411.1,326.58 411.53,326.46 411.97,326.61 412.4,326.61 412.84,326.53 413.27,326.65 413.71,326.54 414.14,326.46 414.58,326.56 415.01,326.61 415.45,326.57 415.88,326.55 416.32,326.64 416.75,326.65 417.19,326.65 417.62,326.61 418.06,326.58 418.49,326.61 418.93,326.62 419.36,326.66 419.8,326.55 420.23,326.49 420.67,326.54 421.1,326.55 421.54,326.53 421.97,326.63 422.41,326.52 422.84,326.57 423.28,326.55 423.71,326.54 424.15,326.57 424.59,326.61 425.02,326.62 425.46,326.63 425.89,326.56 426.33,326.59 426.76,326.54 427.2,326.67 427.63,326.6 428.07,326.48 428.5,326.62 428.94,326.55 429.37,326.56 429.81,326.61 430.24,326.45 430.68,326.61 431.11,326.5 431.55,326.64 431.98,326.66 432.42,326.48 432.85,326.58 433.29,326.66 433.72,326.59 434.16,326.58 434.59,326.51 435.03,326.65 435.46,326.62 435.9,326.46 436.33,326.51 436.77,326.64 437.2,326.6 437.64,326.6 438.07,326.52 438.51,326.54 438.94,326.48 439.38,326.49 439.81,326.56 440.25,326.51 440.68,326.51 441.12,326.5 441.55,326.57 441.99,326.5 442.43,326.52 442.86,326.47 443.3,326.65 443.73,326.48 444.17,326.67 444.6,326.5 445.04,326.54 445.47,326.56 445.91,326.46 446.34,326.55 446.78,326.58 447.21,326.5 447.65,326.48 448.08,326.54 448.52,326.59 448.95,326.57 449.39,326.57 449.82,326.51 450.26,326.61 450.69,326.59 451.13,326.55 451.56,326.59 452,326.6 452.43,326.5 452.87,326.48 453.3,326.56 453.74,326.58 454.17,326.63 454.61,326.61 455.04,326.64 455.48,326.55 455.91,326.54 456.35,326.66 456.78,326.47 457.22,326.6 457.65,326.49 458.09,326.49 458.52,326.46 458.96,326.63 459.39,326.58 459.83,326.47 460.27,326.67 460.7,326.66 461.14,326.55 461.57,326.56 462.01,326.47 462.44,326.5 462.88,326.55 463.31,326.45 463.75,326.56 464.18,326.56 464.62,326.52 465.05,326.59 465.49,326.59 465.92,326.54 466.36,317.03 466.79,310.52 467.23,310.59 467.66,326.74 468.1,326.84 468.53,326.78 468.97,326.77 469.4,326.74 469.84,326.73 470.27,326.66 470.71,326.65 471.14,326.75 471.58,326.76 472.01,326.72 472.45,326.64 472.88,326.79 473.32,326.74 473.75,326.68 474.19,326.82 474.62,326.79 475.06,326.64 475.49,326.68 475.93,326.75 476.36,326.84 476.8,326.66 477.23,326.71 477.67,326.68 478.1,326.64 478.54,326.66 478.98,326.77 479.41,326.83 479.85,326.8 480.28,326.75 480.72,326.75 481.15,326.82 481.59,326.82 482.02,326.72 482.46,326.73 482.89,326.78 483.33,326.64 483.76,326.72 484.2,326.85 484.63,326.77 485.07,326.69 485.5,326.79 485.94,326.71 486.37,326.86 486.81,326.79 487.24,326.67 487.68,326.73 488.11,326.71 488.55,326.82 488.98,326.75 489.42,326.74 489.85,326.8 490.29,326.72 490.72,326.74 491.16,326.64 491.59,326.73 492.03,326.77 492.46,326.84 492.9,326.83 493.33,326.69 493.77,326.84 494.2,326.84 494.64,326.82 495.07,326.74 495.51,326.68 495.94,326.72 496.38,326.68 496.82,326.85 497.25,326.86 497.69,326.69 498.12,326.79 498.56,326.7 498.99,326.78 499.43,326.82 499.86,326.8 500.3,326.84 500.73,326.66 501.17,326.73 501.6,326.78 502.04,326.76 502.47,326.78 502.91,326.85 503.34,326.66 503.78,326.73 504.21,326.65 504.65,326.76 505.08,326.72 505.52,326.81 505.95,326.85 506.39,326.65 506.82,326.67 507.26,326.79 507.69,326.66 508.13,326.68 508.56,326.79 509,326.73 509.43,326.65 509.87,326.75 510.3,326.65 510.74,326.81 511.17,326.77 511.61,326.7 512.04,326.81 512.48,326.79 512.91,326.67 513.35,326.75 513.78,326.68 514.22,326.81 514.66,326.82 515.09,326.78 515.53,326.82 515.96,326.64 516.4,326.8 516.83,326.74 517.27,326.84 517.7,326.74 518.14,326.78 518.57,326.77 519.01,326.85 519.44,326.83 519.88,326.68 520.31,326.78 520.75,326.81 521.18,326.82 521.62,326.8 522.05,326.81 522.49,326.85 522.92,326.71 523.36,326.79" fill="none" stroke="#d02828" stroke-width="1.1" stroke-linejoin="round" />
</g>
<g clip-path="url(#c5)">
<polyline points="61.26,358.6 61.59,358.12 61.91,358.66 62.24,358.5 62.57,358.01 62.89,358.63 63.22,358.35 63.54,358 63.87,358.03 64.2,358.6 64.52,358.43 64.85,358.1 65.18,358.41 65.5,357.9 65.83,358.56 66.16,357.9 66.48,358.3 66.81,358.54 67.13,358.34 67.46,358.62 67.79,358.12 68.11,358.51 68.44,357.95 68.77,358.22 69.09,358.42 69.42,358.52 69.74,358.2 70.07,358.55 70.4,357.97 70.72,358.63 71.05,358.29 71.38,358.26 71.7,358.5 72.03,358.06 72.36,358.4 72.68,358.16 73.01,358.24 73.33,358.47 73.66,358.4 73.99,358.66 74.31,358.58 74.64,357.99 74.97,358.46 75.29,358.16 75.62,358.64 75.95,358.25 76.27,358.42 76.6,358.3 76.92,358.48 77.25,358.68 77.58,358.47 77.9,358.54 78.23,358.63 78.56,358.11 78.88,358.49 79.21,358.39 79.54,357.94 79.86,358.06 80.19,357.96 80.51,357.98 80.84,358.62 81.17,358.5 81.49,358.71 81.82,358.14 82.15,358.16 82.47,358.43 82.8,358.38 83.12,358.16 83.45,358.12 83.78,358.52 84.1,357.99 84.43,358.43 84.76,358.19 85.08,358.58 85.41,358.64 85.74,357.94 86.06,358.09 86.39,358.11 86.71,358.7 87.04,358.7 87.37,358.6 87.69,358.57 88.02,358.47 88.35,358.4 88.67,358.71 89,358.47 89.33,358.18 89.65,358.58 89.98,358 90.3,358.24 90.63,358.11 90.96,358.52 91.28,358.36 91.61,358.14 91.94,358.43 92.26,358.74 92.59,358.01 92.91,358.06 93.24,358.49 93.57,358.7 93.89,357.99 94.22,358.21 94.55,358.7 94.87,358.52 95.2,358.64 95.53,358.04 95.85,358.56 96.18,357.94 96.5,358.08 96.83,358.66 97.16,358.13 97.48,358.39 97.81,358.08 98.14,358.01 98.46,358.49 98.79,358.66 99.12,357.91 99.44,358.37 99.77,357.92 100.09,358.13 100.42,358.09 100.75,358.01 101.07,358.19 101.4,358.34 101.73,358.69 102.05,358.13 102.38,358.36 102.71,358.29 103.03,357.92 103.36,358.63 103.68,358.07 104.01,358.7 104.34,358.12 104.66,358.03 104.99,358.51 105.32,358.26 105.64,357.89 105.97,358.18 106.29,358.26 106.62,358.52 106.95,358.69 107.27,358.43 107.6,358.38 107.93,358.56 108.25,358.47 108.58,358.62 108.91,358.12 109.23,358.15 109.56,358.53 109.88,358.53 110.21,358.29 110.54,358.35 110.86,357.92 111.19,358.43 111.52,358.48 111.84,357.96 112.17,358.62 112.5,358.24 112.82,358.45 113.15,358.02 113.47,358.26 113.8,358.07 114.13,358.59 114.45,358.15 114.78,358.21 115.11,358.33 115.43,358.07 115.76,358.01 116.09,358.64 116.41,358.49 116.74,358.42 117.06,358.56 117.39,358.69 117.72,358.49 118.04,358.57 118.37,358.12 118.7,358.35 119.02,358.64 119.35,358.45 119.67,358.33 120,358.42 120.33,358.59 120.65,358.68 120.98,358.73 121.31,357.87 121.63,358.08 121.96,358.67 122.29,358.11 122.61,357.88 122.94,358.24 123.26,358.64 123.59,358.31 123.92,358.36 124.24,358.57 124.57,358.26 124.9,358.73 125.22,357.93 125.55,358.17 125.88,358.19 126.2,357.92 126.53,358.17 126.85,358.52 127.18,358.52 127.51,358.62 127.83,358.72 128.16,358.06 128.49,358 128.81,358.48 129.14,358.58 129.47,358.18 129.79,358 130.12,357.92 130.44,358.59 130.77,358.05 131.1,358.01 131.42,358.09 131.75,358.45 132.08,358.58 132.4,358.01 132.73,358.46 133.05,358.42 133.38,358.26 133.71,358.42 134.03,358.01 134.36,358.53 134.69,358.7 135.01,358.24 135.34,358.19 135.67,358.02 135.99,358.12 136.32,357.94 136.64,357.91 136.97,358.3 137.3,358.3 137.62,358.6 137.95,358.48 138.28,358.23 138.6,358.67 138.93,358.13 139.26,358.6 139.58,358.35 139.91,357.89 140.23,358.66 140.56,358.7 140.89,358.35 141.21,358.57 141.54,358.1 141.87,358.74 142.19,358 142.52,357.99 142.85,358.05 143.17,358.37 143.5,358.49 143.82,358.16 144.15,358.29 144.48,358.37 144.8,358.44 145.13,358.35 145.46,358.15 145.78,358.01 146.11,357.94 146.43,358.6 146.76,358.48 147.09,358.35 147.41,358.24 147.74,358.43 148.07,358.57 148.39,358.67 148.72,358.46 149.05,358.33 149.37,357.89 149.7,357.94 150.02,357.98 150.35,357.88 150.68,357.89 151,358.19 151.33,358.03 151.66,358.69 151.98,358.14 152.31,358.2 152.64,358.48 152.96,358.24 153.29,357.9 153.61,358.32 153.94,358.17 154.27,358.48 154.59,358.44 154.92,357.96 155.25,358.72 155.57,358.57 155.9,358.14 156.22,358.35 156.55,358.67 156.88,358.16 157.2,358.41 157.53,358.23 157.86,358.37 158.18,358.27 158.51,358.24 158.84,358.39 159.16,358.64 159.49,358.58 159.81,357.96 160.14,358.26 160.47,358.64 160.79,357.98 161.12,358.52 161.45,358.66 161.77,358.27 162.1,358.52 162.43,358.31 162.75,358.25 163.08,358.54 163.4,358.24 163.73,358.64 164.06,358.29 164.38,358.22 164.71,359.02 165.04,358.39 165.36,359.04 165.69,358.33 166.02,357.51 166.34,358.11 166.67,357.8 166.99,357.71 167.32,358.96 167.65,357.26 167.97,357.78 168.3,358.98 168.63,357.57 168.95,358.42 169.28,358.85 169.6,357.32 169.93,358.09 170.26,357.68 170.58,358.92 170.91,357.68 171.24,359.07 171.56,358.72 171.89,358.46 172.22,359.15 172.54,358.03 172.87,358.77 173.19,358.6 173.52,357.81 173.85,358.36 174.17,357.46 174.5,357.98 174.83,357.49 175.15,358.09 175.48,357.4 175.81,357.49 176.13,358.85 176.46,357.74 176.78,358.52 177.11,357.7 177.44,357.86 177.76,357.58 178.09,358.94 178.42,358.46 178.74,357.75 179.07,357.34 179.4,357.78 179.72,359.1 180.05,358.01 180.37,358.99 180.7,358.12 181.03,357.63 181.35,358.96 181.68,357.39 182.01,357.87 182.33,358.69 182.66,358.81 182.98,358.32 183.31,357.56 183.64,358.05 183.96,358.96 184.29,359.14 184.62,358.97 184.94,357.63 185.27,358.82 185.6,358.11 185.92,358.62 186.25,357.85 186.57,358.44 186.9,358.9 187.23,357.49 187.55,358.14 187.88,357.85 188.21,357.62 188.53,357.34 188.86,359.15 189.19,358.52 189.51,358.89 189.84,358.21 190.16,357.49 190.49,357.63 190.82,359.11 191.14,358.83 191.47,357.6 191.8,357.86 192.12,358.42 192.45,358.26 192.78,358.87 193.1,357.54 193.43,358.42 193.75,357.49 194.08,358 194.41,359.03 194.73,358.54 195.06,358.76 195.39,357.45 195.71,358.04 196.04,359.1 196.36,358.85 196.69,358.48 197.02,358.27 197.34,358.06 197.67,358.43 198,358.5 198.32,359.17 198.65,358.06 198.98,358.53 199.3,359.14 199.63,358.29 199.95,357.27 200.28,359.09 200.61,358.9 200.93,357.88 201.26,358.65 201.59,358.65 201.91,358.21 202.24,358.67 202.57,358.08 202.89,358.28 203.22,357.9 203.54,357.87 203.87,358.71 204.2,358.25 204.52,358.06 204.85,357.97 205.18,358.06 205.5,358.18 205.83,358.18 206.15,358.42 206.48,358.49 206.81,358.04 207.13,357.97 207.46,357.91 207.79,358.14 208.11,358.47 208.44,358.07 208.77,358.09 209.09,358.29 209.42,358.18 209.74,358.43 210.07,358.26 210.4,358.38 210.72,358.69 211.05,358.44 211.38,358.46 211.7,357.87 212.03,358.32 212.36,358.42 212.68,358.53 213.01,358.53 213.33,358.43 213.66,358.62 213.99,358.73 214.31,357.97 214.64,358.34 214.97,358.35 215.29,358.24 215.62,358.47 215.95,358.59 216.27,358.68 216.6,358.47 216.92,358.47 217.25,358.1 217.58,358.25 217.9,357.92 218.23,358.44 218.56,357.93 218.88,358.23 219.21,358.67 219.53,358.58 219.86,358.23 220.19,357.87 220.51,358.43 220.84,358.06 221.17,358.36 221.49,357.98 221.82,358.68 222.15,358.31 222.47,357.95 222.8,358.5 223.12,358.51 223.45,358.72 223.78,358.6 224.1,358.5 224.43,358.12 224.76,358.55 225.08,358.39 225.41,358.56 225.74,358.21 226.06,357.98 226.39,358.17 226.71,358.57 227.04,358.09 227.37,357.89 227.69,358.21 228.02,358.67 228.35,358.03 228.67,357.97 229,358.44 229.33,358.62 229.65,358.57 229.98,358.27 230.3,357.97 230.63,358.18 230.96,357.93 231.28,358.55 231.61,358.45 231.94,358.08 232.26,358.17 232.59,358.38 232.91,358.14 233.24,358.44 233.57,358.69 233.89,358.38 234.22,358.7 234.55,358.19 234.87,358.45 235.2,358.3 235.53,358.21 235.85,358.51 236.18,358.33 236.5,358.73 236.83,357.93 237.16,358.24 237.48,357.87 237.81,358.69 238.14,358.2 238.46,358.1 238.79,358.45 239.12,358.66 239.44,358.6 239.77,358.61 240.09,358.06 240.42,358.66 240.75,358.02 241.07,358.37 241.4,358.27 241.73,358.22 242.05,358.25 242.38,358.16 242.71,358.21 243.03,358.45 243.36,358.09 243.68,358.51 244.01,358.11 244.34,358.07 244.66,358.06 244.99,358.47 245.32,358.06 245.64,357.88 245.97,358.34 246.29,358.5 246.62,358.28 246.95,357.91 247.27,358.62 247.6,358.73 247.93,358.32 248.25,358.16 248.58,358.06 248.91,358.42 249.23,357.87 249.56,358.54 249.88,358.07 250.21,358.66 250.54,358.72 250.86,358.62 251.19,358.69 251.52,358.3 251.84,358.25 252.17,358.58 252.5,357.91 252.82,358.42 253.15,358.61 253.47,358.58 253.8,358.09 254.13,357.93 254.45,358.6 254.78,358.71 255.11,358.06 255.43,358.53 255.76,357.88 256.08,358.3 256.41,358.18 256.74,358.44 257.06,358.04 257.39,358.34 257.72,358.46 258.04,357.94 258.37,358.65 258.7,358.09 259.02,358.68 259.35,358.17 259.67,358.39 260,357.98 260.33,358.69 260.65,358.24 260.98,358.38 261.31,357.93 261.63,357.91 261.96,358.19 262.29,358.54 262.61,358.52 262.94,358.51 263.26,358.36 263.59,358.54 263.92,358.56 264.24,358.07 264.57,358.17 264.9,358.48 265.22,357.87 265.55,358.55 265.88,358.24 266.2,358.6 266.53,357.98 266.85,357.98 267.18,358.5 267.51,358.08 267.83,358.02 268.16,358.49 268.49,358.45 268.81,358.31 269.14,357.96 269.46,358.6 269.79,358.14 270.12,358.21 270.44,358.34 270.77,358.23 271.1,357.96 271.42,358.56 271.75,357.96 272.08,358.42 272.4,358.05 272.73,357.98 273.05,358.58 273.38,357.98 273.71,357.86 274.03,358.48 274.36,358.72 274.69,358.64 275.01,357.88 275.34,358.73 275.67,357.94 275.99,358.61 276.32,358.09 276.64,358.65 276.97,358.59 277.3,358.14 277.62,358.66 277.95,358.44 278.28,357.93 278.6,358.11 278.93,357.96 279.26,357.88 279.58,358.71 279.91,358.53 280.23,358.04 280.56,358.13 280.89,358.71 281.21,358.3 281.54,358.54 281.87,358.36 282.19,358.65 282.52,358.72 282.84,357.87 283.17,358.46 283.5,357.97 283.82,358.63 284.15,358.31 284.48,358.62 284.8,358.36 285.13,358.58 285.46,358.14 285.78,358.61 286.11,358.09 286.43,358.3 286.76,358.64 287.09,358.43 287.41,358.3 287.74,357.93 288.07,358.43 288.39,358.55 288.72,357.89 289.05,357.96 289.37,358.1 289.7,358.5 290.02,358.58 290.35,358.51 290.68,358.68 291,358.7 291.33,358.29 291.66,358.38 291.98,358.25 292.31,358.42 292.64,358.73 292.96,358.13 293.29,358.17 293.61,358.26 293.94,358.26 294.27,358.13 294.59,357.88 294.92,357.97 295.25,358.11 295.57,358.39 295.9,358.46 296.22,358.37 296.55,357.88 296.88,358.4 297.2,358.4 297.53,358.38 297.86,358.61 298.18,357.86 298.51,358.74 298.84,358.21 299.16,357.92 299.49,358.52 299.81,358.2 300.14,358.41 300.47,358.53 300.79,358.57 301.12,358.64 301.45,358 301.77,358.05 302.1,357.94 302.43,358.7 302.75,358.13 303.08,358.45 303.4,358.17 303.73,358.26 304.06,358.46 304.38,357.88 304.71,358.74 305.04,358.08 305.36,357.99 305.69,358.29 306.01,358.22 306.34,357.86 306.67,358.53 306.99,358.19 307.32,358.09 307.65,358.41 307.97,358.11 308.3,358.39 308.63,358.28 308.95,358.2 309.28,358.14 309.6,358.46 309.93,358.19 310.26,358.26 310.58,358.54 310.91,358.2 311.24,358.51 311.56,357.94 311.89,358.32 312.22,358.11 312.54,358.28 312.87,358.32 313.19,358.55 313.52,358.61 313.85,357.92 314.17,358.27 314.5,358.28 314.83,358.28 315.15,358.02 315.48,358.53 315.81,358.59 316.13,358.02 316.46,358.33 316.78,358.18 317.11,358.01 317.44,357.95 317.76,357.98 318.09,358.7 318.42,358.4 318.74,358.01 319.07,358.02 319.39,358.63 319.72,358.6 320.05,358.52 320.37,358.65 320.7,358.43 321.03,358.03 321.35,358.28 321.68,358.34 322.01,358.66 322.33,358.39 322.66,357.86 322.98,358.13 323.31,358.34 323.64,358.32 323.96,358.04 324.29,358.07 324.62,358.61 324.94,358.14 325.27,358.42 325.6,358.28 325.92,358.53 326.25,358.41 326.57,358.44 326.9,358.4 327.23,358.72 327.55,358.56 327.88,358.24 328.21,358.69 328.53,358.58 328.86,358.11 329.19,358.5 329.51,358.45 329.84,358.53 330.16,358.01 330.49,358.66 330.82,358.18 331.14,357.98 331.47,358.56 331.8,358.37 332.12,358.04 332.45,358.2 332.77,358.41 333.1,358.7 333.43,358.35 333.75,358.42 334.08,358.11 334.41,358.48 334.73,358.38 335.06,358.17 335.39,358.03 335.71,358.43 336.04,358.4 336.36,358.23 336.69,357.93 337.02,358.57 337.34,357.89 337.67,358.11 338,358.41 338.32,358.15 338.65,358.45 338.98,358.68 339.3,358.07 339.63,358.41 339.95,358.28 340.28,358.3 340.61,357.95 340.93,358.07 341.26,358.72 341.59,358.22 341.91,358.33 342.24,358.33 342.57,358 342.89,358.37 343.22,358.32 343.54,357.96 343.87,358.35 344.2,358.31 344.52,358.29 344.85,358.01 345.18,358.15 345.5,358.09 345.83,358.39 346.15,358.7 346.48,358.14 346.81,358.25 347.13,358.06 347.46,358.06 347.79,358.64 348.11,358.55 348.44,358.67 348.77,358.02 349.09,358.65 349.42,358.66 349.74,358.08 350.07,358.24 350.4,358.69 350.72,358.14 351.05,358.11 351.38,358.32 351.7,358.69 352.03,358.13 352.36,358.37 352.68,358.23 353.01,357.86 353.33,358.02 353.66,357.97 353.99,358.61 354.31,358.45 354.64,358.28 354.97,358.73 355.29,357.87 355.62,358.5 355.95,358.51 356.27,358.46 356.6,358.52 356.92,357.98 357.25,358.25 357.58,358.29 357.9,358.37 358.23,358.69 358.56,358.47 358.88,357.98 359.21,358.03 359.53,357.99 359.86,358.51 360.19,358.56 360.51,358.69 360.84,358.27 361.17,358.41 361.49,358.33 361.82,358.31 362.15,358.23 362.47,358.42 362.8,358.03 363.12,358.56 363.45,357.93 363.78,358.25 364.1,358.69 364.43,358.46 364.76,358.27 365.08,358.38 365.41,358.24 365.74,358.46 366.06,358.5 366.39,358.04 366.71,358.48 367.04,358.11 367.37,358.03 367.69,358.22 368.02,358.34 368.35,357.92 368.67,358.35 369,357.97 369.32,358.69 369.65,358.36 369.98,358.18 370.3,358.7 370.63,357.98 370.96,358.68 371.28,358.22 371.61,358.58 371.94,357.93 372.26,358.25 372.59,358.04 372.91,358.3 373.24,358.15 373.57,358.15 373.89,358.48 374.22,358.55 374.55,358 374.87,358.61 375.2,357.93 375.53,358.56 375.85,358.65 376.18,358.66 376.5,358.05 376.83,357.9 377.16,358.38 377.48,358.16 377.81,358.51 378.14,357.94 378.46,358.14 378.79,358.6 379.12,358.69 379.44,358.13 379.77,358.7 380.09,358 380.42,358.48 380.75,358.54 381.07,358.23 381.4,358.46 381.73,358.25 382.05,358.6 382.38,357.94 382.7,358.45 383.03,358 383.36,358.61 383.68,358.04 384.01,357.88 384.34,358.4 384.66,358.71 384.99,358.41 385.32,358.18 385.64,358.54 385.97,358.26 386.29,358.66 386.62,358.33 386.95,358.1 387.27,358.36 387.6,358.14 387.93,358.64 388.25,358.01 388.58,358.63 388.91,357.93 389.23,357.86 389.56,357.91 389.88,358.28 390.21,358.48 390.54,358.43 390.86,358.08 391.19,358.3 391.52,357.92 391.84,358.66 392.17,358.31 392.5,357.98 392.82,354.79 393.15,355.17 393.47,358.16 393.8,358.13 394.13,357.55 394.45,354.81 394.78,355.02 395.11,357.74 395.43,354.67 395.76,358.6 396.08,356.11 396.41,354.48 396.74,357.23 397.06,354.58 397.39,355.85 397.72,358.52 398.04,357.27 398.37,356.76 398.7,357.65 399.02,355.47 399.35,357.95 399.67,355.27 400,357.43 400.33,358.43 400.65,356.28 400.98,358.32 401.31,358.25 401.63,358.05 401.96,358.22 402.29,358.33 402.61,358.71 402.94,358.29 403.26,358.65 403.59,358.17 403.92,358.62 404.24,358.23 404.57,358.43 404.9,358.41 405.22,358.16 405.55,358.6 405.88,358.59 406.2,357.91 406.53,358.45 406.85,358 407.18,357.97 407.51,358.32 407.83,358.61 408.16,358.66 408.49,357.97 408.81,358.64 409.14,358.3 409.46,358.27 409.79,358.64 410.12,358.33 410.44,358.6 410.77,358.27 411.1,358.29 411.42,358.42 411.75,358.57 412.08,358.38 412.4,358.56 412.73,358.63 413.05,358.53 413.38,357.97 413.71,358.3 414.03,357.96 414.36,358.73 414.69,357.91 415.01,358.31 415.34,358.04 415.67,358.24 415.99,358.13 416.32,358.54 416.64,358.08 416.97,358.6 417.3,358.51 417.62,358.71 417.95,358.39 418.28,358.28 418.6,358.48 418.93,357.96 419.25,358.67 419.58,358.23 419.91,358.53 420.23,358.22 420.56,358.05 420.89,358.11 421.21,358.69 421.54,358.52 421.87,358.21 422.19,357.88 422.52,358.7 422.84,358.2 423.17,358.13 423.5,358.02 423.82,358.44 424.15,358.03 424.48,358.33 424.8,357.93 425.13,358.73 425.46,357.91 425.78,358.38 426.11,358.38 426.43,358.66 426.76,358.52 427.09,358.09 427.41,358.14 427.74,358.61 428.07,358.44 428.39,358.62 428.72,358.57 429.05,358.55 429.37,358.45 429.7,357.88 430.02,357.86 430.35,358.04 430.68,358.32 431,358.3 431.33,358.05 431.66,357.94 431.98,358.08 432.31,358.18 432.63,358.56 432.96,358.19 433.29,358 433.61,358.05 433.94,358.66 434.27,358.11 434.59,358.43 434.92,358.6 435.25,357.89 435.57,358.15 435.9,358.08 436.22,358.62 436.55,358.01 436.88,357.92 437.2,357.94 437.53,358.08 437.86,358.01 438.18,358.03 438.51,358.22 438.84,358.36 439.16,358.01 439.49,358.05 439.81,357.97 440.14,358.48 440.47,357.89 440.79,358.27 441.12,357.91 441.45,358.64 441.77,357.89 442.1,358.05 442.43,358.52 442.75,358 443.08,358.54 443.4,358.57 443.73,358.34 444.06,358.53 444.38,358.31 444.71,357.94 445.04,358.14 445.36,358.11 445.69,358.4 446.01,358.05 446.34,358.04 446.67,358.14 446.99,357.91 447.32,358.01 447.65,358.38 447.97,358.66 448.3,358.17 448.63,358 448.95,358.44 449.28,358.22 449.6,358 449.93,358.04 450.26,358.74 450.58,358.31 450.91,358.73 451.24,358.64 451.56,358.03 451.89,358.37 452.22,358.21 452.54,358.34 452.87,358.44 453.19,358.55 453.52,358.43 453.85,358 454.17,358.2 454.5,358.48 454.83,358.66 455.15,358.5 455.48,358.12 455.81,358.35 456.13,358.3 456.46,357.87 456.78,358.52 457.11,357.29 457.44,358.99 457.76,356.07 458.09,358.66 458.42,358.23 458.74,353.87 459.07,357.57 459.39,358.58 459.72,352.81 460.05,354.96 460.37,351.77 460.7,356.8 461.03,355.44 461.35,349.47 461.68,354.97 462.01,347.9 462.33,359.3 462.66,350.15 462.98,359.68 463.31,354.48 463.64,361.99 463.96,359.5 464.29,348.52 464.62,355.52 464.94,350.46 465.27,358.42 465.6,356.97 465.92,360.56 466.25,354.12 466.57,349.7 466.9,354.67 467.23,356.63 467.55,348.76 467.88,349.25 468.21,352.5 468.53,360.91" fill="none" stroke="#1212c8" stroke-width="1.1" stroke-linejoin="round" />
<polygon points="132.51,358.01 133.05,358.03 133.6,357.44 134.14,357.82 134.69,357.42 135.23,357.3 135.77,357.18 136.32,356.7 136.86,356.21 137.41,355.65 137.95,355.66 138.49,355.12 139.04,353.92 139.58,354.07 140.13,352.73 140.67,351.83 141.21,350.92 141.76,349.99 142.3,348.84 142.85,347.84 143.39,347.98 143.93,347.96 144.48,348.59 145.02,348.33 145.56,348.5 146.11,347.78 146.65,347.84 147.2,348.49 147.74,348.1 148.28,348.11 148.83,348.58 149.37,348.27 149.92,347.96 150.46,348.06 151,349.4 151.55,350 152.09,351.44 152.64,351.99 153.18,352.87 153.72,353.15 154.27,354.21 154.81,354.51 155.35,355.06 155.9,355.77 156.44,355.69 156.99,356.14 157.53,356.39 158.07,356.98 158.62,357.31 159.16,357.18 159.71,357.06 160.25,357.19 160.79,357.69 161.34,357.97 161.88,357.74 162.43,357.53 162.97,358.22 163.51,357.77 163.51,358.68 162.97,358.7 162.43,358.72 161.88,358.76 161.34,358.8 160.79,358.83 160.25,358.87 159.71,358.91 159.16,358.94 158.62,359.03 158.07,359.11 157.53,359.19 156.99,359.27 156.44,359.36 155.9,359.51 155.35,359.62 154.81,359.62 154.27,359.62 153.72,359.62 153.18,359.62 152.64,359.62 152.09,359.62 151.55,359.62 151,359.62 150.46,359.62 149.92,359.62 149.37,359.62 148.83,359.62 148.28,359.62 147.74,359.62 147.2,359.62 146.65,359.62 146.11,359.62 145.56,359.62 145.02,359.62 144.48,359.62 143.93,359.62 143.39,359.62 142.85,359.62 142.3,359.62 141.76,359.62 141.21,359.62 140.67,359.62 140.13,359.62 139.58,359.62 139.04,359.62 138.49,359.62 137.95,359.51 137.41,359.39 136.86,359.26 136.32,359.13 135.77,359.01 135.23,358.88 134.69,358.83 134.14,358.78 133.6,358.73 133.05,358.68 132.51,358.63" fill="#1212c8" stroke="#1212c8" stroke-width="0.6"/>
<polyline points="269.3,358.3 270.39,347.74 270.93,368.86 272.02,358.3" fill="none" stroke="#1212c8" stroke-width="1.3" stroke-linejoin="round" />
<polyline points="344.85,358.3 345.94,347.74 346.48,368.86 347.57,358.3" fill="none" stroke="#1212c8" stroke-width="1.3" stroke-linejoin="round" />
<polyline points="259.24,358.3 259.78,355.66 260.87,356.54 261.42,358.3" fill="none" stroke="#1212c8" stroke-width="1.1" stroke-linejoin="round" />
<polyline points="328.04,358.3 328.59,352.14 329.4,353.9 331.03,354.78 332.39,355.66 332.67,358.3" fill="none" stroke="#1212c8" stroke-width="1.2" stroke-linejoin="round" />
<polyline points="407.18,358.3 407.18,347.74 408.16,347.74 408.16,358.3" fill="none" stroke="#1212c8" stroke-width="1.1" stroke-linejoin="round" />
<polyline points="414.25,358.3 414.25,347.74 415.23,347.74 415.23,358.3" fill="none" stroke="#1212c8" stroke-width="1.1" stroke-linejoin="round" />
<polyline points="418.06,358.3 418.06,347.74 419.04,347.74 419.04,358.3" fill="none" stroke="#1212c8" stroke-width="1.1" stroke-linejoin="round" />
<polyline points="422.68,358.3 422.68,347.74 423.66,347.74 423.66,358.3" fill="none" stroke="#1212c8" stroke-width="1.1" stroke-linejoin="round" />
<polyline points="427.3,358.3 427.3,347.74 428.28,347.74 428.28,358.3" fill="none" stroke="#1212c8" stroke-width="1.1" stroke-linejoin="round" />
<polyline points="432.2,358.3 432.2,347.74 433.18,347.74 433.18,358.3" fill="none" stroke="#1212c8" stroke-width="1.1" stroke-linejoin="round" />
<polyline points="437.09,358.3 437.09,347.74 438.07,347.74 438.07,358.3" fill="none" stroke="#1212c8" stroke-width="1.1" stroke-linejoin="round" />
<polyline points="441.83,358.3 441.83,347.74 442.81,347.74 442.81,358.3" fill="none" stroke="#1212c8" stroke-width="1.1" stroke-linejoin="round" />
<polyline points="445.42,358.3 445.42,347.74 446.4,347.74 446.4,358.3" fill="none" stroke="#1212c8" stroke-width="1.1" stroke-linejoin="round" />
<polyline points="449.06,358.3 449.06,347.74 450.04,347.74 450.04,358.3" fill="none" stroke="#1212c8" stroke-width="1.1" stroke-linejoin="round" />
<polyline points="450.69,358.3 450.69,347.74 451.67,347.74 451.67,358.3" fill="none" stroke="#1212c8" stroke-width="1.1" stroke-linejoin="round" />
<polyline points="467.83,348.62 468.37,368.86 468.91,358.3" fill="none" stroke="#1212c8" stroke-width="1.3" stroke-linejoin="round" />
<polyline points="468.64,358.3 523.57,358.3" fill="none" stroke="#1212c8" stroke-width="1.0" stroke-linejoin="round" />
</g>
<g clip-path="url(#c6)">
<polyline points="61.26,394.08 61.91,393.94 62.57,394.17 63.22,393.94 63.87,393.85 64.52,393.31 65.18,393.31 65.83,394.01 66.48,393.89 67.13,393.3 67.79,393.97 68.44,393.85 69.09,393.74 69.74,394.03 70.4,393.89 71.05,393.76 71.7,393.76 72.36,393.22 73.01,393.85 73.66,393.9 74.31,393.25 74.97,393.66 75.62,393.3 76.27,393.47 76.92,393.33 77.58,393.75 78.23,393.89 78.88,393.33 79.54,393.58 80.19,393.49 80.84,393.38 81.49,393.3 82.15,393.73 82.8,393.64 83.45,393.13 84.1,393.47 84.76,393.68 85.41,393.36 86.06,393.69 86.71,393.22 87.37,393.88 88.02,393.15 88.67,393.38 89.33,393.57 89.98,393.03 90.63,393.63 91.28,393.64 91.94,393.79 92.59,393.35 93.24,393.15 93.89,393.22 94.55,393.45 95.2,393.08 95.85,393.71 96.5,393.52 97.16,393.21 97.81,392.9 98.46,393.2 99.12,393.14 99.77,393.05 100.42,393.39 101.07,392.89 101.73,393.06 102.38,393.42 103.03,393.36 103.68,392.98 104.34,393.39 104.99,393.53 105.64,392.89 106.29,393.2 106.95,393.2 107.6,393.05 108.25,392.83 108.91,393.53 109.56,393.33 110.21,393.57 110.86,393.25 111.52,393.16 112.17,392.83 112.82,392.99 113.47,393.06 114.13,393.22 114.78,393.05 115.43,393.32 116.09,392.79 116.74,392.83 117.39,392.78 118.04,393.4 118.7,392.91 119.35,392.83 120,393.05 120.65,392.68 121.31,392.68 121.96,392.81 122.61,392.73 123.26,392.88 123.92,392.66 124.57,393.33 125.22,392.8 125.88,392.8 126.53,392.87 127.18,393.17 127.83,393.36 128.49,392.88 129.14,392.7 129.79,393.21 130.44,393.28 131.1,393.28 131.75,393.42 132.4,392.9 133.05,392.64 133.71,392.81 134.36,393.23 135.01,392.93 135.67,393.52 136.32,392.83 136.97,393.31 137.62,393.62 138.28,393.06 138.93,393.52 139.58,393.41 140.23,393.62 140.89,393.28 141.54,393.2 142.19,392.98 142.85,393.69 143.5,392.99 144.15,393.66 144.8,393.57 145.46,393.21 146.11,393.49 146.76,393.51 147.41,393.31 148.07,393.64 148.72,393.13 149.37,393.67 150.02,393.11 150.68,393.16 151.33,393.42 151.98,393.89 152.64,393.22 153.29,393.92 153.94,393.5 154.59,393.59 155.25,393.93 155.9,393.43 156.55,393.35 157.2,393.49 157.86,393.68 158.51,393.59 159.16,393.53 159.81,393.87 160.47,393.3 161.12,393.2 161.77,393.39 162.43,393.26 163.08,393.85 163.73,393.26 164.38,394.11 165.04,393.75 165.69,394.08 166.34,393.8 166.99,393.61 167.65,393.62 168.3,393.91 168.95,394.08 169.6,394.28" fill="none" stroke="#1f6aa8" stroke-width="2.0" stroke-linejoin="round" />
<polyline points="170.04,394.09 171.67,394.31 173.3,394.51 174.94,394.37 176.57,394.65 178.2,394.84 179.83,395.13 181.46,394.95 183.09,395.33 184.73,395.39 186.36,395.33 187.99,395.35 189.62,395.3 191.25,395.52 192.88,395.51 194.52,395.63 196.15,395.83 197.78,395.94 199.41,396.39 201.04,396.41 202.67,396.62 204.31,396.25 205.94,396.43 207.57,396.58 209.2,396.88 210.83,396.89 212.46,397.05 214.1,396.84 215.73,396.69 217.36,397.11 218.99,397.3 220.62,397.28 222.25,397.23 223.89,396.98 225.52,397.08 227.15,397.31 228.78,397.55 230.41,397.6 232.04,397.62 233.68,397.33 235.31,397.54 236.94,397.31 238.57,397.4 240.2,397.51 241.83,397.73 243.47,397.59 245.1,398.01 246.73,398.07 248.36,397.87 249.99,397.95 251.63,398.16 253.26,398.18 254.89,398.36 256.52,397.92 258.15,398.08 259.78,398 261.42,398.05 263.05,398.41 264.68,398.32 266.31,398.58 267.94,398.42 269.57,398.47 271.21,398.93 272.84,399.07 274.47,399.03 276.1,398.89 277.73,399.08 279.36,399.35 281,398.97 282.63,399.06 284.26,399.31 285.89,399.61 287.52,399.22 289.15,399.48 290.79,399.81 292.42,399.74 294.05,399.64 295.68,399.57 297.31,399.86 298.94,399.85 300.58,400.15 302.21,400.18 303.84,399.87 305.47,400.21 307.1,400.41 308.73,400.2 310.37,400.5 312,400.52 313.63,400.43 315.26,400.41 316.89,400.43 318.52,400.45 320.16,400.65 321.79,400.9 323.42,400.6 325.05,401.01 326.68,400.84 328.31,400.93 329.95,400.83 331.58,400.86 333.21,401.17 334.84,401 336.47,401.03 338.11,401.21 339.74,401.44 341.37,401.06 343,401.27 344.63,401.61 346.26,401.55 347.9,401.18 349.53,401.64 351.16,401.59 352.79,401.42 354.42,401.44 356.05,401.58 357.69,401.57 359.32,401.99 360.95,402 362.58,401.56 364.21,401.7 365.84,402.16 367.48,402.19 369.11,402.13 370.74,401.8 372.37,402.23 374,402.02 375.63,401.92 377.27,402.12 378.9,402.01 380.53,402.41 382.16,402.51 383.79,402.63 385.42,402.26 387.06,402.66 388.69,402.23 390.32,402.41 391.95,402.71 393.58,402.38 395.21,402.75 396.85,402.57 398.48,402.81 400.11,402.45 401.74,402.41 403.37,402.41 405,402.93 406.64,402.48 408.27,402.66 409.9,402.53 411.53,402.71 413.16,402.66 414.8,402.69 416.43,402.6 418.06,403.01 419.69,403.03 421.32,402.78 422.95,402.93 424.59,402.89 426.22,403.12 427.85,402.73 429.48,403.14 431.11,402.71 432.74,402.74 434.38,402.95 436.01,403.15 437.64,402.87 439.27,403.13 440.9,403.02 442.53,403.21 444.17,402.75 445.8,403 447.43,403.13 449.06,403.28 450.69,402.95 452.32,402.9 453.96,402.91 455.59,403.34 457.22,403.21 458.85,403.26 460.48,403.02 462.11,403.37 463.75,403.14 465.38,402.95 467.01,403.08 468.64,403.51 470.27,403.48 471.9,403.46 473.54,403.15 475.17,403.2 476.8,403.25 478.43,403.28 480.06,403.31 481.69,403.2 483.33,403.19 484.96,403.04 486.59,403.15 488.22,403.11 489.85,403.05 491.48,403.1 493.12,403.17 494.75,403.54 496.38,403.19 498.01,403.1 499.64,403.33 501.28,403.09 502.91,403.48 504.54,403.06 506.17,403.34 507.8,403.2 509.43,403.45 511.07,403.42 512.7,403.4 514.33,403.42 515.96,403.54 517.59,403.36 519.22,403.07 520.86,403.25 522.49,403.1" fill="none" stroke="#2f7ab8" stroke-width="1.2" stroke-linejoin="round" />
</g>
<path d="M88.46,164.6v2.8M88.46,183.4v-2.8 M115.65,164.6v2.8M115.65,183.4v-2.8 M142.84,164.6v2.8M142.84,183.4v-2.8 M170.04,164.6v2.8M170.04,183.4v-2.8 M197.24,164.6v2.8M197.24,183.4v-2.8 M224.43,164.6v2.8M224.43,183.4v-2.8 M251.62,164.6v2.8M251.62,183.4v-2.8 M278.82,164.6v2.8M278.82,183.4v-2.8 M306.01,164.6v2.8M306.01,183.4v-2.8 M333.21,164.6v2.8M333.21,183.4v-2.8 M360.4,164.6v2.8M360.4,183.4v-2.8 M387.6,164.6v2.8M387.6,183.4v-2.8 M414.8,164.6v2.8M414.8,183.4v-2.8 M441.99,164.6v2.8M441.99,183.4v-2.8 M469.19,164.6v2.8M469.19,183.4v-2.8 M496.38,164.6v2.8M496.38,183.4v-2.8 M61.25,183.3h2.2 M61.25,172.9h2.2" stroke="#333" stroke-width="0.8" fill="none"/>
<rect x="61.25" y="164.6" width="462.35" height="18.8" fill="none" stroke="#505050" stroke-width="1.1"/>
<text x="61.16" y="191.9" font-size="7" fill="#1e1e1e" font-weight="bold" text-anchor="middle" textLength="15.68" lengthAdjust="spacingAndGlyphs" class="sf" stroke="#1e1e1e" stroke-width="0.25">−0.1</text>
<text x="88.36" y="191.9" font-size="7" fill="#1e1e1e" font-weight="bold" text-anchor="middle" textLength="20.13" lengthAdjust="spacingAndGlyphs" class="sf" stroke="#1e1e1e" stroke-width="0.25">−0.05</text>
<text x="115.55" y="191.9" font-size="7" fill="#1e1e1e" font-weight="bold" text-anchor="middle" textLength="4.45" lengthAdjust="spacingAndGlyphs" class="sf" stroke="#1e1e1e" stroke-width="0.25">0</text>
<text x="142.75" y="191.9" font-size="7" fill="#1e1e1e" font-weight="bold" text-anchor="middle" textLength="15.56" lengthAdjust="spacingAndGlyphs" class="sf" stroke="#1e1e1e" stroke-width="0.25">0.05</text>
<text x="169.94" y="191.9" font-size="7" fill="#1e1e1e" font-weight="bold" text-anchor="middle" textLength="11.11" lengthAdjust="spacingAndGlyphs" class="sf" stroke="#1e1e1e" stroke-width="0.25">0.1</text>
<text x="197.14" y="191.9" font-size="7" fill="#1e1e1e" font-weight="bold" text-anchor="middle" textLength="15.56" lengthAdjust="spacingAndGlyphs" class="sf" stroke="#1e1e1e" stroke-width="0.25">0.15</text>
<text x="224.33" y="191.9" font-size="7" fill="#1e1e1e" font-weight="bold" text-anchor="middle" textLength="11.11" lengthAdjust="spacingAndGlyphs" class="sf" stroke="#1e1e1e" stroke-width="0.25">0.2</text>
<text x="251.53" y="191.9" font-size="7" fill="#1e1e1e" font-weight="bold" text-anchor="middle" textLength="15.56" lengthAdjust="spacingAndGlyphs" class="sf" stroke="#1e1e1e" stroke-width="0.25">0.25</text>
<text x="278.72" y="191.9" font-size="7" fill="#1e1e1e" font-weight="bold" text-anchor="middle" textLength="11.11" lengthAdjust="spacingAndGlyphs" class="sf" stroke="#1e1e1e" stroke-width="0.25">0.3</text>
<text x="305.91" y="191.9" font-size="7" fill="#1e1e1e" font-weight="bold" text-anchor="middle" textLength="15.56" lengthAdjust="spacingAndGlyphs" class="sf" stroke="#1e1e1e" stroke-width="0.25">0.35</text>
<text x="333.11" y="191.9" font-size="7" fill="#1e1e1e" font-weight="bold" text-anchor="middle" textLength="11.11" lengthAdjust="spacingAndGlyphs" class="sf" stroke="#1e1e1e" stroke-width="0.25">0.4</text>
<text x="360.3" y="191.9" font-size="7" fill="#1e1e1e" font-weight="bold" text-anchor="middle" textLength="15.56" lengthAdjust="spacingAndGlyphs" class="sf" stroke="#1e1e1e" stroke-width="0.25">0.45</text>
<text x="387.5" y="191.9" font-size="7" fill="#1e1e1e" font-weight="bold" text-anchor="middle" textLength="11.11" lengthAdjust="spacingAndGlyphs" class="sf" stroke="#1e1e1e" stroke-width="0.25">0.5</text>
<text x="414.7" y="191.9" font-size="7" fill="#1e1e1e" font-weight="bold" text-anchor="middle" textLength="15.56" lengthAdjust="spacingAndGlyphs" class="sf" stroke="#1e1e1e" stroke-width="0.25">0.55</text>
<text x="441.89" y="191.9" font-size="7" fill="#1e1e1e" font-weight="bold" text-anchor="middle" textLength="11.11" lengthAdjust="spacingAndGlyphs" class="sf" stroke="#1e1e1e" stroke-width="0.25">0.6</text>
<text x="469.09" y="191.9" font-size="7" fill="#1e1e1e" font-weight="bold" text-anchor="middle" textLength="15.56" lengthAdjust="spacingAndGlyphs" class="sf" stroke="#1e1e1e" stroke-width="0.25">0.65</text>
<text x="496.28" y="191.9" font-size="7" fill="#1e1e1e" font-weight="bold" text-anchor="middle" textLength="11.11" lengthAdjust="spacingAndGlyphs" class="sf" stroke="#1e1e1e" stroke-width="0.25">0.7</text>
<text x="523.47" y="191.9" font-size="7" fill="#1e1e1e" font-weight="bold" text-anchor="middle" textLength="15.56" lengthAdjust="spacingAndGlyphs" class="sf" stroke="#1e1e1e" stroke-width="0.25">0.75</text>
<text x="53.76" y="185.7" font-size="7" fill="#1e1e1e" font-weight="bold" textLength="4.45" lengthAdjust="spacingAndGlyphs" class="sf" stroke="#1e1e1e" stroke-width="0.25">0</text>
<text x="49.31" y="175.3" font-size="7" fill="#1e1e1e" font-weight="bold" textLength="8.89" lengthAdjust="spacingAndGlyphs" class="sf" stroke="#1e1e1e" stroke-width="0.25">50</text>
<path d="M88.46,201.7v2.8M88.46,220v-2.8 M115.65,201.7v2.8M115.65,220v-2.8 M142.84,201.7v2.8M142.84,220v-2.8 M170.04,201.7v2.8M170.04,220v-2.8 M197.24,201.7v2.8M197.24,220v-2.8 M224.43,201.7v2.8M224.43,220v-2.8 M251.62,201.7v2.8M251.62,220v-2.8 M278.82,201.7v2.8M278.82,220v-2.8 M306.01,201.7v2.8M306.01,220v-2.8 M333.21,201.7v2.8M333.21,220v-2.8 M360.4,201.7v2.8M360.4,220v-2.8 M387.6,201.7v2.8M387.6,220v-2.8 M414.8,201.7v2.8M414.8,220v-2.8 M441.99,201.7v2.8M441.99,220v-2.8 M469.19,201.7v2.8M469.19,220v-2.8 M496.38,201.7v2.8M496.38,220v-2.8 M61.25,217.5h2.2 M61.25,212.5h2.2 M61.25,207.5h2.2 M61.25,202.5h2.2" stroke="#333" stroke-width="0.8" fill="none"/>
<rect x="61.25" y="201.7" width="462.35" height="18.3" fill="none" stroke="#505050" stroke-width="1.1"/>
<text x="61.16" y="228.5" font-size="7" fill="#1e1e1e" font-weight="bold" text-anchor="middle" textLength="15.68" lengthAdjust="spacingAndGlyphs" class="sf" stroke="#1e1e1e" stroke-width="0.25">−0.1</text>
<text x="88.36" y="228.5" font-size="7" fill="#1e1e1e" font-weight="bold" text-anchor="middle" textLength="20.13" lengthAdjust="spacingAndGlyphs" class="sf" stroke="#1e1e1e" stroke-width="0.25">−0.05</text>
<text x="115.55" y="228.5" font-size="7" fill="#1e1e1e" font-weight="bold" text-anchor="middle" textLength="4.45" lengthAdjust="spacingAndGlyphs" class="sf" stroke="#1e1e1e" stroke-width="0.25">0</text>
<text x="142.75" y="228.5" font-size="7" fill="#1e1e1e" font-weight="bold" text-anchor="middle" textLength="15.56" lengthAdjust="spacingAndGlyphs" class="sf" stroke="#1e1e1e" stroke-width="0.25">0.05</text>
<text x="169.94" y="228.5" font-size="7" fill="#1e1e1e" font-weight="bold" text-anchor="middle" textLength="11.11" lengthAdjust="spacingAndGlyphs" class="sf" stroke="#1e1e1e" stroke-width="0.25">0.1</text>
<text x="197.14" y="228.5" font-size="7" fill="#1e1e1e" font-weight="bold" text-anchor="middle" textLength="15.56" lengthAdjust="spacingAndGlyphs" class="sf" stroke="#1e1e1e" stroke-width="0.25">0.15</text>
<text x="224.33" y="228.5" font-size="7" fill="#1e1e1e" font-weight="bold" text-anchor="middle" textLength="11.11" lengthAdjust="spacingAndGlyphs" class="sf" stroke="#1e1e1e" stroke-width="0.25">0.2</text>
<text x="251.53" y="228.5" font-size="7" fill="#1e1e1e" font-weight="bold" text-anchor="middle" textLength="15.56" lengthAdjust="spacingAndGlyphs" class="sf" stroke="#1e1e1e" stroke-width="0.25">0.25</text>
<text x="278.72" y="228.5" font-size="7" fill="#1e1e1e" font-weight="bold" text-anchor="middle" textLength="11.11" lengthAdjust="spacingAndGlyphs" class="sf" stroke="#1e1e1e" stroke-width="0.25">0.3</text>
<text x="305.91" y="228.5" font-size="7" fill="#1e1e1e" font-weight="bold" text-anchor="middle" textLength="15.56" lengthAdjust="spacingAndGlyphs" class="sf" stroke="#1e1e1e" stroke-width="0.25">0.35</text>
<text x="333.11" y="228.5" font-size="7" fill="#1e1e1e" font-weight="bold" text-anchor="middle" textLength="11.11" lengthAdjust="spacingAndGlyphs" class="sf" stroke="#1e1e1e" stroke-width="0.25">0.4</text>
<text x="360.3" y="228.5" font-size="7" fill="#1e1e1e" font-weight="bold" text-anchor="middle" textLength="15.56" lengthAdjust="spacingAndGlyphs" class="sf" stroke="#1e1e1e" stroke-width="0.25">0.45</text>
<text x="387.5" y="228.5" font-size="7" fill="#1e1e1e" font-weight="bold" text-anchor="middle" textLength="11.11" lengthAdjust="spacingAndGlyphs" class="sf" stroke="#1e1e1e" stroke-width="0.25">0.5</text>
<text x="414.7" y="228.5" font-size="7" fill="#1e1e1e" font-weight="bold" text-anchor="middle" textLength="15.56" lengthAdjust="spacingAndGlyphs" class="sf" stroke="#1e1e1e" stroke-width="0.25">0.55</text>
<text x="441.89" y="228.5" font-size="7" fill="#1e1e1e" font-weight="bold" text-anchor="middle" textLength="11.11" lengthAdjust="spacingAndGlyphs" class="sf" stroke="#1e1e1e" stroke-width="0.25">0.6</text>
<text x="469.09" y="228.5" font-size="7" fill="#1e1e1e" font-weight="bold" text-anchor="middle" textLength="15.56" lengthAdjust="spacingAndGlyphs" class="sf" stroke="#1e1e1e" stroke-width="0.25">0.65</text>
<text x="496.28" y="228.5" font-size="7" fill="#1e1e1e" font-weight="bold" text-anchor="middle" textLength="11.11" lengthAdjust="spacingAndGlyphs" class="sf" stroke="#1e1e1e" stroke-width="0.25">0.7</text>
<text x="523.47" y="228.5" font-size="7" fill="#1e1e1e" font-weight="bold" text-anchor="middle" textLength="15.56" lengthAdjust="spacingAndGlyphs" class="sf" stroke="#1e1e1e" stroke-width="0.25">0.75</text>
<text x="53.76" y="219.9" font-size="7" fill="#1e1e1e" font-weight="bold" textLength="4.45" lengthAdjust="spacingAndGlyphs" class="sf" stroke="#1e1e1e" stroke-width="0.25">0</text>
<text x="53.76" y="214.9" font-size="7" fill="#1e1e1e" font-weight="bold" textLength="4.45" lengthAdjust="spacingAndGlyphs" class="sf" stroke="#1e1e1e" stroke-width="0.25">2</text>
<text x="53.76" y="209.9" font-size="7" fill="#1e1e1e" font-weight="bold" textLength="4.45" lengthAdjust="spacingAndGlyphs" class="sf" stroke="#1e1e1e" stroke-width="0.25">4</text>
<text x="53.76" y="204.9" font-size="7" fill="#1e1e1e" font-weight="bold" textLength="4.45" lengthAdjust="spacingAndGlyphs" class="sf" stroke="#1e1e1e" stroke-width="0.25">6</text>
<path d="M88.46,238.3v2.8M88.46,257.5v-2.8 M115.65,238.3v2.8M115.65,257.5v-2.8 M142.84,238.3v2.8M142.84,257.5v-2.8 M170.04,238.3v2.8M170.04,257.5v-2.8 M197.24,238.3v2.8M197.24,257.5v-2.8 M224.43,238.3v2.8M224.43,257.5v-2.8 M251.62,238.3v2.8M251.62,257.5v-2.8 M278.82,238.3v2.8M278.82,257.5v-2.8 M306.01,238.3v2.8M306.01,257.5v-2.8 M333.21,238.3v2.8M333.21,257.5v-2.8 M360.4,238.3v2.8M360.4,257.5v-2.8 M387.6,238.3v2.8M387.6,257.5v-2.8 M414.8,238.3v2.8M414.8,257.5v-2.8 M441.99,238.3v2.8M441.99,257.5v-2.8 M469.19,238.3v2.8M469.19,257.5v-2.8 M496.38,238.3v2.8M496.38,257.5v-2.8 M61.25,255.4h2.2 M61.25,248.5h2.2 M61.25,241.6h2.2" stroke="#333" stroke-width="0.8" fill="none"/>
<rect x="61.25" y="238.3" width="462.35" height="19.2" fill="none" stroke="#505050" stroke-width="1.1"/>
<text x="61.16" y="266" font-size="7" fill="#1e1e1e" font-weight="bold" text-anchor="middle" textLength="15.68" lengthAdjust="spacingAndGlyphs" class="sf" stroke="#1e1e1e" stroke-width="0.25">−0.1</text>
<text x="88.36" y="266" font-size="7" fill="#1e1e1e" font-weight="bold" text-anchor="middle" textLength="20.13" lengthAdjust="spacingAndGlyphs" class="sf" stroke="#1e1e1e" stroke-width="0.25">−0.05</text>
<text x="115.55" y="266" font-size="7" fill="#1e1e1e" font-weight="bold" text-anchor="middle" textLength="4.45" lengthAdjust="spacingAndGlyphs" class="sf" stroke="#1e1e1e" stroke-width="0.25">0</text>
<text x="142.75" y="266" font-size="7" fill="#1e1e1e" font-weight="bold" text-anchor="middle" textLength="15.56" lengthAdjust="spacingAndGlyphs" class="sf" stroke="#1e1e1e" stroke-width="0.25">0.05</text>
<text x="169.94" y="266" font-size="7" fill="#1e1e1e" font-weight="bold" text-anchor="middle" textLength="11.11" lengthAdjust="spacingAndGlyphs" class="sf" stroke="#1e1e1e" stroke-width="0.25">0.1</text>
<text x="197.14" y="266" font-size="7" fill="#1e1e1e" font-weight="bold" text-anchor="middle" textLength="15.56" lengthAdjust="spacingAndGlyphs" class="sf" stroke="#1e1e1e" stroke-width="0.25">0.15</text>
<text x="224.33" y="266" font-size="7" fill="#1e1e1e" font-weight="bold" text-anchor="middle" textLength="11.11" lengthAdjust="spacingAndGlyphs" class="sf" stroke="#1e1e1e" stroke-width="0.25">0.2</text>
<text x="251.53" y="266" font-size="7" fill="#1e1e1e" font-weight="bold" text-anchor="middle" textLength="15.56" lengthAdjust="spacingAndGlyphs" class="sf" stroke="#1e1e1e" stroke-width="0.25">0.25</text>
<text x="278.72" y="266" font-size="7" fill="#1e1e1e" font-weight="bold" text-anchor="middle" textLength="11.11" lengthAdjust="spacingAndGlyphs" class="sf" stroke="#1e1e1e" stroke-width="0.25">0.3</text>
<text x="305.91" y="266" font-size="7" fill="#1e1e1e" font-weight="bold" text-anchor="middle" textLength="15.56" lengthAdjust="spacingAndGlyphs" class="sf" stroke="#1e1e1e" stroke-width="0.25">0.35</text>
<text x="333.11" y="266" font-size="7" fill="#1e1e1e" font-weight="bold" text-anchor="middle" textLength="11.11" lengthAdjust="spacingAndGlyphs" class="sf" stroke="#1e1e1e" stroke-width="0.25">0.4</text>
<text x="360.3" y="266" font-size="7" fill="#1e1e1e" font-weight="bold" text-anchor="middle" textLength="15.56" lengthAdjust="spacingAndGlyphs" class="sf" stroke="#1e1e1e" stroke-width="0.25">0.45</text>
<text x="387.5" y="266" font-size="7" fill="#1e1e1e" font-weight="bold" text-anchor="middle" textLength="11.11" lengthAdjust="spacingAndGlyphs" class="sf" stroke="#1e1e1e" stroke-width="0.25">0.5</text>
<text x="414.7" y="266" font-size="7" fill="#1e1e1e" font-weight="bold" text-anchor="middle" textLength="15.56" lengthAdjust="spacingAndGlyphs" class="sf" stroke="#1e1e1e" stroke-width="0.25">0.55</text>
<text x="441.89" y="266" font-size="7" fill="#1e1e1e" font-weight="bold" text-anchor="middle" textLength="11.11" lengthAdjust="spacingAndGlyphs" class="sf" stroke="#1e1e1e" stroke-width="0.25">0.6</text>
<text x="469.09" y="266" font-size="7" fill="#1e1e1e" font-weight="bold" text-anchor="middle" textLength="15.56" lengthAdjust="spacingAndGlyphs" class="sf" stroke="#1e1e1e" stroke-width="0.25">0.65</text>
<text x="496.28" y="266" font-size="7" fill="#1e1e1e" font-weight="bold" text-anchor="middle" textLength="11.11" lengthAdjust="spacingAndGlyphs" class="sf" stroke="#1e1e1e" stroke-width="0.25">0.7</text>
<text x="523.47" y="266" font-size="7" fill="#1e1e1e" font-weight="bold" text-anchor="middle" textLength="15.56" lengthAdjust="spacingAndGlyphs" class="sf" stroke="#1e1e1e" stroke-width="0.25">0.75</text>
<text x="49.18" y="257.8" font-size="7" fill="#1e1e1e" font-weight="bold" textLength="9.02" lengthAdjust="spacingAndGlyphs" class="sf" stroke="#1e1e1e" stroke-width="0.25">−5</text>
<text x="53.76" y="250.9" font-size="7" fill="#1e1e1e" font-weight="bold" textLength="4.45" lengthAdjust="spacingAndGlyphs" class="sf" stroke="#1e1e1e" stroke-width="0.25">0</text>
<text x="53.76" y="244" font-size="7" fill="#1e1e1e" font-weight="bold" textLength="4.45" lengthAdjust="spacingAndGlyphs" class="sf" stroke="#1e1e1e" stroke-width="0.25">5</text>
<path d="M88.46,275.2v2.8M88.46,294.3v-2.8 M115.65,275.2v2.8M115.65,294.3v-2.8 M142.84,275.2v2.8M142.84,294.3v-2.8 M170.04,275.2v2.8M170.04,294.3v-2.8 M197.24,275.2v2.8M197.24,294.3v-2.8 M224.43,275.2v2.8M224.43,294.3v-2.8 M251.62,275.2v2.8M251.62,294.3v-2.8 M278.82,275.2v2.8M278.82,294.3v-2.8 M306.01,275.2v2.8M306.01,294.3v-2.8 M333.21,275.2v2.8M333.21,294.3v-2.8 M360.4,275.2v2.8M360.4,294.3v-2.8 M387.6,275.2v2.8M387.6,294.3v-2.8 M414.8,275.2v2.8M414.8,294.3v-2.8 M441.99,275.2v2.8M441.99,294.3v-2.8 M469.19,275.2v2.8M469.19,294.3v-2.8 M496.38,275.2v2.8M496.38,294.3v-2.8 M61.25,294.3h2.2 M61.25,287.93h2.2 M61.25,281.57h2.2 M61.25,275.2h2.2" stroke="#333" stroke-width="0.8" fill="none"/>
<rect x="61.25" y="275.2" width="462.35" height="19.1" fill="none" stroke="#505050" stroke-width="1.1"/>
<text x="61.16" y="302.8" font-size="7" fill="#1e1e1e" font-weight="bold" text-anchor="middle" textLength="15.68" lengthAdjust="spacingAndGlyphs" class="sf" stroke="#1e1e1e" stroke-width="0.25">−0.1</text>
<text x="88.36" y="302.8" font-size="7" fill="#1e1e1e" font-weight="bold" text-anchor="middle" textLength="20.13" lengthAdjust="spacingAndGlyphs" class="sf" stroke="#1e1e1e" stroke-width="0.25">−0.05</text>
<text x="115.55" y="302.8" font-size="7" fill="#1e1e1e" font-weight="bold" text-anchor="middle" textLength="4.45" lengthAdjust="spacingAndGlyphs" class="sf" stroke="#1e1e1e" stroke-width="0.25">0</text>
<text x="142.75" y="302.8" font-size="7" fill="#1e1e1e" font-weight="bold" text-anchor="middle" textLength="15.56" lengthAdjust="spacingAndGlyphs" class="sf" stroke="#1e1e1e" stroke-width="0.25">0.05</text>
<text x="169.94" y="302.8" font-size="7" fill="#1e1e1e" font-weight="bold" text-anchor="middle" textLength="11.11" lengthAdjust="spacingAndGlyphs" class="sf" stroke="#1e1e1e" stroke-width="0.25">0.1</text>
<text x="197.14" y="302.8" font-size="7" fill="#1e1e1e" font-weight="bold" text-anchor="middle" textLength="15.56" lengthAdjust="spacingAndGlyphs" class="sf" stroke="#1e1e1e" stroke-width="0.25">0.15</text>
<text x="224.33" y="302.8" font-size="7" fill="#1e1e1e" font-weight="bold" text-anchor="middle" textLength="11.11" lengthAdjust="spacingAndGlyphs" class="sf" stroke="#1e1e1e" stroke-width="0.25">0.2</text>
<text x="251.53" y="302.8" font-size="7" fill="#1e1e1e" font-weight="bold" text-anchor="middle" textLength="15.56" lengthAdjust="spacingAndGlyphs" class="sf" stroke="#1e1e1e" stroke-width="0.25">0.25</text>
<text x="278.72" y="302.8" font-size="7" fill="#1e1e1e" font-weight="bold" text-anchor="middle" textLength="11.11" lengthAdjust="spacingAndGlyphs" class="sf" stroke="#1e1e1e" stroke-width="0.25">0.3</text>
<text x="305.91" y="302.8" font-size="7" fill="#1e1e1e" font-weight="bold" text-anchor="middle" textLength="15.56" lengthAdjust="spacingAndGlyphs" class="sf" stroke="#1e1e1e" stroke-width="0.25">0.35</text>
<text x="333.11" y="302.8" font-size="7" fill="#1e1e1e" font-weight="bold" text-anchor="middle" textLength="11.11" lengthAdjust="spacingAndGlyphs" class="sf" stroke="#1e1e1e" stroke-width="0.25">0.4</text>
<text x="360.3" y="302.8" font-size="7" fill="#1e1e1e" font-weight="bold" text-anchor="middle" textLength="15.56" lengthAdjust="spacingAndGlyphs" class="sf" stroke="#1e1e1e" stroke-width="0.25">0.45</text>
<text x="387.5" y="302.8" font-size="7" fill="#1e1e1e" font-weight="bold" text-anchor="middle" textLength="11.11" lengthAdjust="spacingAndGlyphs" class="sf" stroke="#1e1e1e" stroke-width="0.25">0.5</text>
<text x="414.7" y="302.8" font-size="7" fill="#1e1e1e" font-weight="bold" text-anchor="middle" textLength="15.56" lengthAdjust="spacingAndGlyphs" class="sf" stroke="#1e1e1e" stroke-width="0.25">0.55</text>
<text x="441.89" y="302.8" font-size="7" fill="#1e1e1e" font-weight="bold" text-anchor="middle" textLength="11.11" lengthAdjust="spacingAndGlyphs" class="sf" stroke="#1e1e1e" stroke-width="0.25">0.6</text>
<text x="469.09" y="302.8" font-size="7" fill="#1e1e1e" font-weight="bold" text-anchor="middle" textLength="15.56" lengthAdjust="spacingAndGlyphs" class="sf" stroke="#1e1e1e" stroke-width="0.25">0.65</text>
<text x="496.28" y="302.8" font-size="7" fill="#1e1e1e" font-weight="bold" text-anchor="middle" textLength="11.11" lengthAdjust="spacingAndGlyphs" class="sf" stroke="#1e1e1e" stroke-width="0.25">0.7</text>
<text x="523.47" y="302.8" font-size="7" fill="#1e1e1e" font-weight="bold" text-anchor="middle" textLength="15.56" lengthAdjust="spacingAndGlyphs" class="sf" stroke="#1e1e1e" stroke-width="0.25">0.75</text>
<text x="53.76" y="296.7" font-size="7" fill="#1e1e1e" font-weight="bold" textLength="4.45" lengthAdjust="spacingAndGlyphs" class="sf" stroke="#1e1e1e" stroke-width="0.25">0</text>
<text x="44.87" y="290.33" font-size="7" fill="#1e1e1e" font-weight="bold" textLength="13.34" lengthAdjust="spacingAndGlyphs" class="sf" stroke="#1e1e1e" stroke-width="0.25">100</text>
<text x="44.87" y="283.97" font-size="7" fill="#1e1e1e" font-weight="bold" textLength="13.34" lengthAdjust="spacingAndGlyphs" class="sf" stroke="#1e1e1e" stroke-width="0.25">200</text>
<text x="44.87" y="277.6" font-size="7" fill="#1e1e1e" font-weight="bold" textLength="13.34" lengthAdjust="spacingAndGlyphs" class="sf" stroke="#1e1e1e" stroke-width="0.25">300</text>
<path d="M88.46,311.7v2.8M88.46,331.3v-2.8 M115.65,311.7v2.8M115.65,331.3v-2.8 M142.84,311.7v2.8M142.84,331.3v-2.8 M170.04,311.7v2.8M170.04,331.3v-2.8 M197.24,311.7v2.8M197.24,331.3v-2.8 M224.43,311.7v2.8M224.43,331.3v-2.8 M251.62,311.7v2.8M251.62,331.3v-2.8 M278.82,311.7v2.8M278.82,331.3v-2.8 M306.01,311.7v2.8M306.01,331.3v-2.8 M333.21,311.7v2.8M333.21,331.3v-2.8 M360.4,311.7v2.8M360.4,331.3v-2.8 M387.6,311.7v2.8M387.6,331.3v-2.8 M414.8,311.7v2.8M414.8,331.3v-2.8 M441.99,311.7v2.8M441.99,331.3v-2.8 M469.19,311.7v2.8M469.19,331.3v-2.8 M496.38,311.7v2.8M496.38,331.3v-2.8 M61.25,327.5h2.2 M61.25,320h2.2 M61.25,312.5h2.2" stroke="#333" stroke-width="0.8" fill="none"/>
<rect x="61.25" y="311.7" width="462.35" height="19.6" fill="none" stroke="#505050" stroke-width="1.1"/>
<text x="61.16" y="339.8" font-size="7" fill="#1e1e1e" font-weight="bold" text-anchor="middle" textLength="15.68" lengthAdjust="spacingAndGlyphs" class="sf" stroke="#1e1e1e" stroke-width="0.25">−0.1</text>
<text x="88.36" y="339.8" font-size="7" fill="#1e1e1e" font-weight="bold" text-anchor="middle" textLength="20.13" lengthAdjust="spacingAndGlyphs" class="sf" stroke="#1e1e1e" stroke-width="0.25">−0.05</text>
<text x="115.55" y="339.8" font-size="7" fill="#1e1e1e" font-weight="bold" text-anchor="middle" textLength="4.45" lengthAdjust="spacingAndGlyphs" class="sf" stroke="#1e1e1e" stroke-width="0.25">0</text>
<text x="142.75" y="339.8" font-size="7" fill="#1e1e1e" font-weight="bold" text-anchor="middle" textLength="15.56" lengthAdjust="spacingAndGlyphs" class="sf" stroke="#1e1e1e" stroke-width="0.25">0.05</text>
<text x="169.94" y="339.8" font-size="7" fill="#1e1e1e" font-weight="bold" text-anchor="middle" textLength="11.11" lengthAdjust="spacingAndGlyphs" class="sf" stroke="#1e1e1e" stroke-width="0.25">0.1</text>
<text x="197.14" y="339.8" font-size="7" fill="#1e1e1e" font-weight="bold" text-anchor="middle" textLength="15.56" lengthAdjust="spacingAndGlyphs" class="sf" stroke="#1e1e1e" stroke-width="0.25">0.15</text>
<text x="224.33" y="339.8" font-size="7" fill="#1e1e1e" font-weight="bold" text-anchor="middle" textLength="11.11" lengthAdjust="spacingAndGlyphs" class="sf" stroke="#1e1e1e" stroke-width="0.25">0.2</text>
<text x="251.53" y="339.8" font-size="7" fill="#1e1e1e" font-weight="bold" text-anchor="middle" textLength="15.56" lengthAdjust="spacingAndGlyphs" class="sf" stroke="#1e1e1e" stroke-width="0.25">0.25</text>
<text x="278.72" y="339.8" font-size="7" fill="#1e1e1e" font-weight="bold" text-anchor="middle" textLength="11.11" lengthAdjust="spacingAndGlyphs" class="sf" stroke="#1e1e1e" stroke-width="0.25">0.3</text>
<text x="305.91" y="339.8" font-size="7" fill="#1e1e1e" font-weight="bold" text-anchor="middle" textLength="15.56" lengthAdjust="spacingAndGlyphs" class="sf" stroke="#1e1e1e" stroke-width="0.25">0.35</text>
<text x="333.11" y="339.8" font-size="7" fill="#1e1e1e" font-weight="bold" text-anchor="middle" textLength="11.11" lengthAdjust="spacingAndGlyphs" class="sf" stroke="#1e1e1e" stroke-width="0.25">0.4</text>
<text x="360.3" y="339.8" font-size="7" fill="#1e1e1e" font-weight="bold" text-anchor="middle" textLength="15.56" lengthAdjust="spacingAndGlyphs" class="sf" stroke="#1e1e1e" stroke-width="0.25">0.45</text>
<text x="387.5" y="339.8" font-size="7" fill="#1e1e1e" font-weight="bold" text-anchor="middle" textLength="11.11" lengthAdjust="spacingAndGlyphs" class="sf" stroke="#1e1e1e" stroke-width="0.25">0.5</text>
<text x="414.7" y="339.8" font-size="7" fill="#1e1e1e" font-weight="bold" text-anchor="middle" textLength="15.56" lengthAdjust="spacingAndGlyphs" class="sf" stroke="#1e1e1e" stroke-width="0.25">0.55</text>
<text x="441.89" y="339.8" font-size="7" fill="#1e1e1e" font-weight="bold" text-anchor="middle" textLength="11.11" lengthAdjust="spacingAndGlyphs" class="sf" stroke="#1e1e1e" stroke-width="0.25">0.6</text>
<text x="469.09" y="339.8" font-size="7" fill="#1e1e1e" font-weight="bold" text-anchor="middle" textLength="15.56" lengthAdjust="spacingAndGlyphs" class="sf" stroke="#1e1e1e" stroke-width="0.25">0.65</text>
<text x="496.28" y="339.8" font-size="7" fill="#1e1e1e" font-weight="bold" text-anchor="middle" textLength="11.11" lengthAdjust="spacingAndGlyphs" class="sf" stroke="#1e1e1e" stroke-width="0.25">0.7</text>
<text x="523.47" y="339.8" font-size="7" fill="#1e1e1e" font-weight="bold" text-anchor="middle" textLength="15.56" lengthAdjust="spacingAndGlyphs" class="sf" stroke="#1e1e1e" stroke-width="0.25">0.75</text>
<text x="53.76" y="329.9" font-size="7" fill="#1e1e1e" font-weight="bold" textLength="4.45" lengthAdjust="spacingAndGlyphs" class="sf" stroke="#1e1e1e" stroke-width="0.25">0</text>
<text x="53.76" y="322.4" font-size="7" fill="#1e1e1e" font-weight="bold" textLength="4.45" lengthAdjust="spacingAndGlyphs" class="sf" stroke="#1e1e1e" stroke-width="0.25">2</text>
<text x="53.76" y="314.9" font-size="7" fill="#1e1e1e" font-weight="bold" textLength="4.45" lengthAdjust="spacingAndGlyphs" class="sf" stroke="#1e1e1e" stroke-width="0.25">4</text>
<path d="M88.46,349.2v2.8M88.46,367.8v-2.8 M115.65,349.2v2.8M115.65,367.8v-2.8 M142.84,349.2v2.8M142.84,367.8v-2.8 M170.04,349.2v2.8M170.04,367.8v-2.8 M197.24,349.2v2.8M197.24,367.8v-2.8 M224.43,349.2v2.8M224.43,367.8v-2.8 M251.62,349.2v2.8M251.62,367.8v-2.8 M278.82,349.2v2.8M278.82,367.8v-2.8 M306.01,349.2v2.8M306.01,367.8v-2.8 M333.21,349.2v2.8M333.21,367.8v-2.8 M360.4,349.2v2.8M360.4,367.8v-2.8 M387.6,349.2v2.8M387.6,367.8v-2.8 M414.8,349.2v2.8M414.8,367.8v-2.8 M441.99,349.2v2.8M441.99,367.8v-2.8 M469.19,349.2v2.8M469.19,367.8v-2.8 M496.38,349.2v2.8M496.38,367.8v-2.8 M61.25,367.1h2.2 M61.25,358.3h2.2 M61.25,349.5h2.2" stroke="#333" stroke-width="0.8" fill="none"/>
<rect x="61.25" y="349.2" width="462.35" height="18.6" fill="none" stroke="#505050" stroke-width="1.1"/>
<text x="61.16" y="376.3" font-size="7" fill="#1e1e1e" font-weight="bold" text-anchor="middle" textLength="15.68" lengthAdjust="spacingAndGlyphs" class="sf" stroke="#1e1e1e" stroke-width="0.25">−0.1</text>
<text x="88.36" y="376.3" font-size="7" fill="#1e1e1e" font-weight="bold" text-anchor="middle" textLength="20.13" lengthAdjust="spacingAndGlyphs" class="sf" stroke="#1e1e1e" stroke-width="0.25">−0.05</text>
<text x="115.55" y="376.3" font-size="7" fill="#1e1e1e" font-weight="bold" text-anchor="middle" textLength="4.45" lengthAdjust="spacingAndGlyphs" class="sf" stroke="#1e1e1e" stroke-width="0.25">0</text>
<text x="142.75" y="376.3" font-size="7" fill="#1e1e1e" font-weight="bold" text-anchor="middle" textLength="15.56" lengthAdjust="spacingAndGlyphs" class="sf" stroke="#1e1e1e" stroke-width="0.25">0.05</text>
<text x="169.94" y="376.3" font-size="7" fill="#1e1e1e" font-weight="bold" text-anchor="middle" textLength="11.11" lengthAdjust="spacingAndGlyphs" class="sf" stroke="#1e1e1e" stroke-width="0.25">0.1</text>
<text x="197.14" y="376.3" font-size="7" fill="#1e1e1e" font-weight="bold" text-anchor="middle" textLength="15.56" lengthAdjust="spacingAndGlyphs" class="sf" stroke="#1e1e1e" stroke-width="0.25">0.15</text>
<text x="224.33" y="376.3" font-size="7" fill="#1e1e1e" font-weight="bold" text-anchor="middle" textLength="11.11" lengthAdjust="spacingAndGlyphs" class="sf" stroke="#1e1e1e" stroke-width="0.25">0.2</text>
<text x="251.53" y="376.3" font-size="7" fill="#1e1e1e" font-weight="bold" text-anchor="middle" textLength="15.56" lengthAdjust="spacingAndGlyphs" class="sf" stroke="#1e1e1e" stroke-width="0.25">0.25</text>
<text x="278.72" y="376.3" font-size="7" fill="#1e1e1e" font-weight="bold" text-anchor="middle" textLength="11.11" lengthAdjust="spacingAndGlyphs" class="sf" stroke="#1e1e1e" stroke-width="0.25">0.3</text>
<text x="305.91" y="376.3" font-size="7" fill="#1e1e1e" font-weight="bold" text-anchor="middle" textLength="15.56" lengthAdjust="spacingAndGlyphs" class="sf" stroke="#1e1e1e" stroke-width="0.25">0.35</text>
<text x="333.11" y="376.3" font-size="7" fill="#1e1e1e" font-weight="bold" text-anchor="middle" textLength="11.11" lengthAdjust="spacingAndGlyphs" class="sf" stroke="#1e1e1e" stroke-width="0.25">0.4</text>
<text x="360.3" y="376.3" font-size="7" fill="#1e1e1e" font-weight="bold" text-anchor="middle" textLength="15.56" lengthAdjust="spacingAndGlyphs" class="sf" stroke="#1e1e1e" stroke-width="0.25">0.45</text>
<text x="387.5" y="376.3" font-size="7" fill="#1e1e1e" font-weight="bold" text-anchor="middle" textLength="11.11" lengthAdjust="spacingAndGlyphs" class="sf" stroke="#1e1e1e" stroke-width="0.25">0.5</text>
<text x="414.7" y="376.3" font-size="7" fill="#1e1e1e" font-weight="bold" text-anchor="middle" textLength="15.56" lengthAdjust="spacingAndGlyphs" class="sf" stroke="#1e1e1e" stroke-width="0.25">0.55</text>
<text x="441.89" y="376.3" font-size="7" fill="#1e1e1e" font-weight="bold" text-anchor="middle" textLength="11.11" lengthAdjust="spacingAndGlyphs" class="sf" stroke="#1e1e1e" stroke-width="0.25">0.6</text>
<text x="469.09" y="376.3" font-size="7" fill="#1e1e1e" font-weight="bold" text-anchor="middle" textLength="15.56" lengthAdjust="spacingAndGlyphs" class="sf" stroke="#1e1e1e" stroke-width="0.25">0.65</text>
<text x="496.28" y="376.3" font-size="7" fill="#1e1e1e" font-weight="bold" text-anchor="middle" textLength="11.11" lengthAdjust="spacingAndGlyphs" class="sf" stroke="#1e1e1e" stroke-width="0.25">0.7</text>
<text x="523.47" y="376.3" font-size="7" fill="#1e1e1e" font-weight="bold" text-anchor="middle" textLength="15.56" lengthAdjust="spacingAndGlyphs" class="sf" stroke="#1e1e1e" stroke-width="0.25">0.75</text>
<text x="49.18" y="369.5" font-size="7" fill="#1e1e1e" font-weight="bold" textLength="9.02" lengthAdjust="spacingAndGlyphs" class="sf" stroke="#1e1e1e" stroke-width="0.25">−1</text>
<text x="53.76" y="360.7" font-size="7" fill="#1e1e1e" font-weight="bold" textLength="4.45" lengthAdjust="spacingAndGlyphs" class="sf" stroke="#1e1e1e" stroke-width="0.25">0</text>
<text x="53.76" y="351.9" font-size="7" fill="#1e1e1e" font-weight="bold" textLength="4.45" lengthAdjust="spacingAndGlyphs" class="sf" stroke="#1e1e1e" stroke-width="0.25">1</text>
<path d="M88.46,386.2v2.8M88.46,404.7v-2.8 M115.65,386.2v2.8M115.65,404.7v-2.8 M142.84,386.2v2.8M142.84,404.7v-2.8 M170.04,386.2v2.8M170.04,404.7v-2.8 M197.24,386.2v2.8M197.24,404.7v-2.8 M224.43,386.2v2.8M224.43,404.7v-2.8 M251.62,386.2v2.8M251.62,404.7v-2.8 M278.82,386.2v2.8M278.82,404.7v-2.8 M306.01,386.2v2.8M306.01,404.7v-2.8 M333.21,386.2v2.8M333.21,404.7v-2.8 M360.4,386.2v2.8M360.4,404.7v-2.8 M387.6,386.2v2.8M387.6,404.7v-2.8 M414.8,386.2v2.8M414.8,404.7v-2.8 M441.99,386.2v2.8M441.99,404.7v-2.8 M469.19,386.2v2.8M469.19,404.7v-2.8 M496.38,386.2v2.8M496.38,404.7v-2.8 M61.25,404.7h2.2 M61.25,395.6h2.2 M61.25,386.5h2.2" stroke="#333" stroke-width="0.8" fill="none"/>
<rect x="61.25" y="386.2" width="462.35" height="18.5" fill="none" stroke="#505050" stroke-width="1.1"/>
<text x="61.16" y="413.2" font-size="7" fill="#1e1e1e" font-weight="bold" text-anchor="middle" textLength="15.68" lengthAdjust="spacingAndGlyphs" class="sf" stroke="#1e1e1e" stroke-width="0.25">−0.1</text>
<text x="88.36" y="413.2" font-size="7" fill="#1e1e1e" font-weight="bold" text-anchor="middle" textLength="20.13" lengthAdjust="spacingAndGlyphs" class="sf" stroke="#1e1e1e" stroke-width="0.25">−0.05</text>
<text x="115.55" y="413.2" font-size="7" fill="#1e1e1e" font-weight="bold" text-anchor="middle" textLength="4.45" lengthAdjust="spacingAndGlyphs" class="sf" stroke="#1e1e1e" stroke-width="0.25">0</text>
<text x="142.75" y="413.2" font-size="7" fill="#1e1e1e" font-weight="bold" text-anchor="middle" textLength="15.56" lengthAdjust="spacingAndGlyphs" class="sf" stroke="#1e1e1e" stroke-width="0.25">0.05</text>
<text x="169.94" y="413.2" font-size="7" fill="#1e1e1e" font-weight="bold" text-anchor="middle" textLength="11.11" lengthAdjust="spacingAndGlyphs" class="sf" stroke="#1e1e1e" stroke-width="0.25">0.1</text>
<text x="197.14" y="413.2" font-size="7" fill="#1e1e1e" font-weight="bold" text-anchor="middle" textLength="15.56" lengthAdjust="spacingAndGlyphs" class="sf" stroke="#1e1e1e" stroke-width="0.25">0.15</text>
<text x="224.33" y="413.2" font-size="7" fill="#1e1e1e" font-weight="bold" text-anchor="middle" textLength="11.11" lengthAdjust="spacingAndGlyphs" class="sf" stroke="#1e1e1e" stroke-width="0.25">0.2</text>
<text x="251.53" y="413.2" font-size="7" fill="#1e1e1e" font-weight="bold" text-anchor="middle" textLength="15.56" lengthAdjust="spacingAndGlyphs" class="sf" stroke="#1e1e1e" stroke-width="0.25">0.25</text>
<text x="278.72" y="413.2" font-size="7" fill="#1e1e1e" font-weight="bold" text-anchor="middle" textLength="11.11" lengthAdjust="spacingAndGlyphs" class="sf" stroke="#1e1e1e" stroke-width="0.25">0.3</text>
<text x="305.91" y="413.2" font-size="7" fill="#1e1e1e" font-weight="bold" text-anchor="middle" textLength="15.56" lengthAdjust="spacingAndGlyphs" class="sf" stroke="#1e1e1e" stroke-width="0.25">0.35</text>
<text x="333.11" y="413.2" font-size="7" fill="#1e1e1e" font-weight="bold" text-anchor="middle" textLength="11.11" lengthAdjust="spacingAndGlyphs" class="sf" stroke="#1e1e1e" stroke-width="0.25">0.4</text>
<text x="360.3" y="413.2" font-size="7" fill="#1e1e1e" font-weight="bold" text-anchor="middle" textLength="15.56" lengthAdjust="spacingAndGlyphs" class="sf" stroke="#1e1e1e" stroke-width="0.25">0.45</text>
<text x="387.5" y="413.2" font-size="7" fill="#1e1e1e" font-weight="bold" text-anchor="middle" textLength="11.11" lengthAdjust="spacingAndGlyphs" class="sf" stroke="#1e1e1e" stroke-width="0.25">0.5</text>
<text x="414.7" y="413.2" font-size="7" fill="#1e1e1e" font-weight="bold" text-anchor="middle" textLength="15.56" lengthAdjust="spacingAndGlyphs" class="sf" stroke="#1e1e1e" stroke-width="0.25">0.55</text>
<text x="441.89" y="413.2" font-size="7" fill="#1e1e1e" font-weight="bold" text-anchor="middle" textLength="11.11" lengthAdjust="spacingAndGlyphs" class="sf" stroke="#1e1e1e" stroke-width="0.25">0.6</text>
<text x="469.09" y="413.2" font-size="7" fill="#1e1e1e" font-weight="bold" text-anchor="middle" textLength="15.56" lengthAdjust="spacingAndGlyphs" class="sf" stroke="#1e1e1e" stroke-width="0.25">0.65</text>
<text x="496.28" y="413.2" font-size="7" fill="#1e1e1e" font-weight="bold" text-anchor="middle" textLength="11.11" lengthAdjust="spacingAndGlyphs" class="sf" stroke="#1e1e1e" stroke-width="0.25">0.7</text>
<text x="523.47" y="413.2" font-size="7" fill="#1e1e1e" font-weight="bold" text-anchor="middle" textLength="15.56" lengthAdjust="spacingAndGlyphs" class="sf" stroke="#1e1e1e" stroke-width="0.25">0.75</text>
<text x="53.76" y="407.1" font-size="7" fill="#1e1e1e" font-weight="bold" textLength="4.45" lengthAdjust="spacingAndGlyphs" class="sf" stroke="#1e1e1e" stroke-width="0.25">0</text>
<text x="53.76" y="398" font-size="7" fill="#1e1e1e" font-weight="bold" textLength="4.45" lengthAdjust="spacingAndGlyphs" class="sf" stroke="#1e1e1e" stroke-width="0.25">1</text>
<text x="53.76" y="388.9" font-size="7" fill="#1e1e1e" font-weight="bold" textLength="4.45" lengthAdjust="spacingAndGlyphs" class="sf" stroke="#1e1e1e" stroke-width="0.25">2</text>
<polyline points="469.19,183 523.57,183" fill="none" stroke="#3a86c0" stroke-width="1.2" stroke-linejoin="round" />
<rect x="476.3" y="164.6" width="47.3" height="9.6" fill="#fff" stroke="#333" stroke-width="1"/>
<polyline points="480,169.2 498.7,169.2" fill="none" stroke="#3a86c0" stroke-width="1" stroke-linejoin="round" />
<text x="500.8" y="171.5" font-size="6.3" font-weight="bold" fill="#222" textLength="19.7" lengthAdjust="spacingAndGlyphs">Ip(kA)</text>
<rect x="473.3" y="201.7" width="50.3" height="18.3" fill="#fff" stroke="#333" stroke-width="1"/>
<polyline points="476.4,206.8 494.9,206.8" fill="none" stroke="#c8262c" stroke-width="1.6" stroke-linejoin="round" />
<text x="496.5" y="209.1" font-size="6.3" font-weight="bold" fill="#222" textLength="24" lengthAdjust="spacingAndGlyphs">V<tspan font-size="4.4" dy="1.9">L,flux</tspan><tspan font-size="5.2" dy="-2.9">(V)</tspan></text>
<polyline points="476.4,214.9 494.9,214.9" fill="none" stroke="#3a86c0" stroke-width="1.2" stroke-linejoin="round" />
<text x="496.5" y="217.2" font-size="6.3" font-weight="bold" fill="#222" textLength="24" lengthAdjust="spacingAndGlyphs">V<tspan font-size="4.4" dy="1.9">L,int</tspan><tspan font-size="5.2" dy="-2.9">(V)</tspan></text>
<rect x="473.3" y="238.4" width="50.3" height="19.2" fill="#fff" stroke="#333" stroke-width="1"/>
<polyline points="476.8,244.2 495.6,244.2" fill="none" stroke="#4a90c8" stroke-width="1.2" stroke-linejoin="round" />
<text x="497.5" y="246.5" font-size="6.3" font-weight="bold" fill="#222" textLength="23" lengthAdjust="spacingAndGlyphs">I<tspan font-size="4.4" dy="1.9">OT</tspan><tspan font-size="5.2" dy="-2.9">(kA)</tspan></text>
<polyline points="476.8,252.6 495.6,252.6" fill="none" stroke="#d9534f" stroke-width="1.2" stroke-linejoin="round" />
<text x="497.5" y="254.9" font-size="6.3" font-weight="bold" fill="#222" textLength="21" lengthAdjust="spacingAndGlyphs">I<tspan font-size="4.4" dy="1.9">VT</tspan><tspan font-size="5.2" dy="-2.9">(kA)</tspan></text>
<rect x="465.7" y="275.3" width="57.9" height="19.1" fill="#fff" stroke="#333" stroke-width="1"/>
<polyline points="468.5,281 487.9,281" fill="none" stroke="#3c3cd8" stroke-width="1.3" stroke-linejoin="round" />
<text x="489.6" y="283.3" font-size="6.3" font-weight="bold" fill="#222" textLength="30.9" lengthAdjust="spacingAndGlyphs">P<tspan font-size="4.4" dy="1.9">ECRH</tspan><tspan font-size="5.2" dy="-2.9">(kW)</tspan></text>
<polyline points="468.5,289.2 487.9,289.2" fill="none" stroke="#b02030" stroke-width="1.3" stroke-linejoin="round" />
<text x="489.6" y="291.5" font-size="6.3" font-weight="bold" fill="#222" textLength="30.9" lengthAdjust="spacingAndGlyphs">P<tspan font-size="4.4" dy="1.9">LHCD</tspan><tspan font-size="5.2" dy="-2.9">(kW)</tspan></text>
<rect x="474.7" y="311.7" width="48.9" height="10.5" fill="#fff" stroke="#333" stroke-width="1"/>
<polyline points="478,317 496.7,317" fill="none" stroke="#c0303a" stroke-width="1.2" stroke-linejoin="round" />
<text x="499" y="319.3" font-size="6.3" font-weight="bold" fill="#222" textLength="20.7" lengthAdjust="spacingAndGlyphs">H<tspan font-size="4.4" dy="1.9">α</tspan><tspan font-size="5.2" dy="-2.9"> (a.u)</tspan></text>
<rect x="470" y="349.2" width="53.6" height="9.2" fill="#fff" stroke="#333" stroke-width="1"/>
<polyline points="472.5,353.7 490.8,353.7" fill="none" stroke="#2424d0" stroke-width="1.2" stroke-linejoin="round" />
<text x="493" y="356" font-size="6.3" font-weight="bold" fill="#222" textLength="27.8" lengthAdjust="spacingAndGlyphs">HXR(a.u)</text>
<rect x="456.7" y="386.3" width="66.9" height="10.4" fill="#fff" stroke="#333" stroke-width="1"/>
<polyline points="460.8,391.3 479.2,391.3" fill="none" stroke="#5aa0cc" stroke-width="0.9" stroke-linejoin="round" />
<text x="480.8" y="393.6" font-size="6.3" font-weight="bold" fill="#222" textLength="40.9" lengthAdjust="spacingAndGlyphs">P<tspan font-size="4.4" dy="1.9">Vessel</tspan><tspan font-size="5.2" dy="-2.9">(mBar)</tspan></text>
<text x="61.5" y="384.6" font-size="7" fill="#333">×10<tspan font-size="5" dy="-3">−5</tspan></text>
<text x="271.3" y="423.3" font-size="9.5" fill="#222" font-weight="bold" textLength="42.5" lengthAdjust="spacingAndGlyphs" >Time(s)</text>
<line x1="132.8" y1="152.2" x2="128.2" y2="465" stroke="#189a4e" stroke-width="2.4" stroke-dasharray="6.7 5.65"/>
<line x1="182.2" y1="152.2" x2="177.3" y2="465" stroke="#189a4e" stroke-width="2.4" stroke-dasharray="6.7 5.65"/>
<line x1="266.5" y1="152.2" x2="261.6" y2="465" stroke="#189a4e" stroke-width="2.4" stroke-dasharray="6.7 5.65"/>
<line x1="340.6" y1="152.2" x2="335.7" y2="465" stroke="#189a4e" stroke-width="2.4" stroke-dasharray="6.7 5.65"/>
<line x1="469.2" y1="152.2" x2="465.0" y2="455.4" stroke="#189a4e" stroke-width="2.4" stroke-dasharray="6.7 5.65"/>
<text x="24.56" y="450.4" font-size="13" fill="#dc1019" font-weight="bold" textLength="79.73" lengthAdjust="spacingAndGlyphs" >Breakdown</text>
<text x="24.56" y="465.7" font-size="13" fill="#dc1019" font-weight="bold" textLength="43.7" lengthAdjust="spacingAndGlyphs" >Phase</text>
<text x="126.1" y="450.4" font-size="13" fill="#dc1019" font-weight="bold" textLength="49.48" lengthAdjust="spacingAndGlyphs" >current</text>
<text x="125.67" y="465.7" font-size="13" fill="#dc1019" font-weight="bold" textLength="49.9" lengthAdjust="spacingAndGlyphs" >startup</text>
<text x="198.3" y="450.4" font-size="13" fill="#dc1019" font-weight="bold" textLength="43.69" lengthAdjust="spacingAndGlyphs" >flattop</text>
<text x="200.74" y="465.7" font-size="13" fill="#dc1019" font-weight="bold" textLength="43.42" lengthAdjust="spacingAndGlyphs" >phase</text>
<text x="266.96" y="450.4" font-size="13" fill="#dc1019" font-weight="bold" textLength="67.52" lengthAdjust="spacingAndGlyphs" >LH drives</text>
<text x="273.5" y="465.7" font-size="13" fill="#dc1019" font-weight="bold" textLength="49.87" lengthAdjust="spacingAndGlyphs" >current</text>
<text x="342.86" y="450.4" font-size="13" fill="#dc1019" font-weight="bold" textLength="103.03" lengthAdjust="spacingAndGlyphs" >Plasma moves</text>
<text x="336.9" y="465.7" font-size="13" fill="#dc1019" font-weight="bold" textLength="138.47" lengthAdjust="spacingAndGlyphs" >out, brings impurity</text>
<text x="483.8" y="450.4" font-size="13" fill="#dc1019" font-weight="bold" textLength="49.67" lengthAdjust="spacingAndGlyphs" >current</text>
<text x="485" y="465.7" font-size="13" fill="#dc1019" font-weight="bold" textLength="74.25" lengthAdjust="spacingAndGlyphs" >terminates</text>
<path d="M86.98,544.6V641.9 M101.66,544.6V641.9 M116.35,544.6V641.9 M131.03,544.6V641.9 M145.71,544.6V641.9 M160.4,544.6V641.9 M175.08,544.6V641.9 M189.76,544.6V641.9 M204.44,544.6V641.9 M219.12,544.6V641.9 M233.81,544.6V641.9 M248.49,544.6V641.9 M263.17,544.6V641.9 M277.86,544.6V641.9 M292.54,544.6V641.9 M307.22,544.6V641.9 M321.9,544.6V641.9 M336.58,544.6V641.9 M351.27,544.6V641.9 M365.95,544.6V641.9 M380.63,544.6V641.9 M395.31,544.6V641.9 M410,544.6V641.9 M424.68,544.6V641.9 M439.36,544.6V641.9 M454.05,544.6V641.9 M468.73,544.6V641.9 M72.3,629.74H483.5 M72.3,617.57H483.5 M72.3,605.41H483.5 M72.3,593.25H483.5 M72.3,581.09H483.5 M72.3,568.92H483.5 M72.3,556.76H483.5" stroke="#c4c6d8" stroke-width="0.9" stroke-dasharray="1 2.2" fill="none"/>
<clipPath id="cb"><rect x="70.3" y="544.6" width="413.2" height="99.3"/></clipPath>
<g clip-path="url(#cb)">
<polygon points="71.13,544.6 71.13,572.14 71.83,571.74 72.53,570.83 73.24,571.92 73.94,574.27 74.65,574.2 75.35,573.12 76.06,575.01 76.76,573.68 77.47,569.95 78.17,569.54 78.88,572.49 79.58,569.9 80.29,569.66 80.99,568.82 81.7,569.07 82.4,570.22 83.11,572.24 83.81,568.13 84.52,570.6 85.22,568.66 85.93,569.79 86.63,568.62 87.33,565.98 88.04,569.93 88.74,567.59 89.45,566.6 90.15,566.84 90.86,564.34 91.56,566.83 92.27,563.77 92.97,564.8 93.68,563.15 94.38,567.68 95.09,566.85 95.79,566.28 96.5,562.8 97.2,567.41 97.91,565.91 98.61,563.26 99.32,561.57 100.02,565.71 100.73,564.09 101.43,562.54 102.13,562.3 102.84,561.79 103.54,561.55 104.25,564.06 104.95,563.84 105.66,564.88 106.36,561.15 107.07,563.55 107.77,563.95 108.48,560.7 109.18,560.42 109.89,558.94 110.59,556.83 111.3,555.92 112,554.93 112.71,556.55 113.41,557.57 114.12,557.46 114.82,557.64 115.53,555.68 116.23,556.75 116.93,556.81 117.64,557.88 118.34,559.29 119.05,563.5 119.87,566.49 119.87,544.6" fill="#ffff10"/>
<rect x="119.3" y="544.6" width="3.2" height="97.3" fill="#ffff10"/>
<polyline points="120.46,640.9 208.55,640.9" stroke="#f4f020" stroke-width="2.6" fill="none"/>
<polyline points="72.3,641.9 73.47,641.9 74.65,641.9 75.82,641.9 77,641.9 78.17,641.9 79.35,641.9 80.52,641.9 81.7,641.9 82.87,641.9 84.05,641.9 85.22,641.9 86.4,641.9 87.57,641.9 88.74,641.9 89.92,641.9 91.09,641.9 92.27,641.9 93.44,641.9 94.62,641.9 95.79,641.9 96.97,641.9 98.14,641.9 99.32,641.9 100.49,641.9 101.66,641.9 102.84,641.9 104.01,641.9 105.19,641.9 106.36,641.9 107.54,641.9 108.71,641.9 109.89,641.9 111.06,641.9 112.24,641.9 113.41,641.9 114.59,641.9 115.76,641.9 116.93,641.9 118.11,641.9 119.28,641.9 120.46,641.9 121.63,641.9 122.81,641.9 123.98,641.9 125.16,641.9 126.33,641.9 127.51,641.9 128.68,641.9 129.86,641.9 131.03,635.33 132.2,627.58 133.38,621.6 134.55,614.79 134.91,612.38 135.73,609.42 136.9,604.97 137.2,604.37 138.08,602.66 139.25,602.02 139.49,600.33 140.43,603.84 141.6,606.22 142.6,610.23 142.78,609.08 143.95,611 145.13,610.94 146.3,611.97 147.47,613.14 148.65,614.72 149.41,615.78 149.82,614.44 151,610.3 151.59,610.02 152.17,608.8 153.35,608.09 154.52,607.14 154.82,607.71 155.7,608.1 156.87,608.61 158.05,607.61 159.22,609.02 160.39,609.02 160.92,609.35 161.57,617.05 162.39,626.39 162.74,628.74 163.92,635.52 164.51,639.31 165.09,640.17 166.27,641.9 167.44,641.9 168.62,641.9 169.79,641.9 170.97,641.9 172.14,641.9 173.32,641.9 174.49,641.9 175.43,641.9 175.66,639.6 176.84,627.56 177.72,620.12 178.01,617.97 179.19,615.76 180.36,612 180.83,611.68 181.54,610.52 182.71,611.23 183.89,610.87 185.06,610.45 185.41,611.07 186.24,609.86 187.41,607.56 188.59,606.97 189.76,605.4 189.99,604.5 190.93,604.91 192.11,604.39 193.28,603.77 194.46,602.93 194.63,602.87 195.63,602.78 196.81,603.47 197.39,603.03 197.98,604.9 199.16,604.99 200.33,605.79 200.92,607.3 201.51,607.81 202.68,607.49 203.86,608.36 205.03,608.15 205.32,607.83 206.2,614.22 207.38,621.37 207.5,621.5 208.55,631.21 209.73,640.93 210.9,641.9 212.08,641.9 213.25,641.9 214.43,641.9 215.6,641.9 216.78,641.9 217.95,641.9 219.12,641.9 219.54,641.9 220.3,635.67 221.47,625.07 222.65,615.33 222.77,614.38 223.82,614.96 225,615.96 226.17,616.38 227.35,618.17 228.29,619.89 228.52,619.09 229.7,615.46 230.87,612.98 231.58,610.81 232.05,610.38 233.22,609.85 234.39,610.35 235.57,608.3 236.74,608.27 236.98,608.59 237.92,608.55 239.09,607.24 240.27,608.11 241.44,608.13 242.62,607.64 243.79,606.39 244.97,606.95 246.14,606.32 247.32,607.2 248.49,606.39 249.08,606.52 249.66,612.43 250.84,623.15 252.01,631.85 253.19,639.85 253.48,641.9 254.36,641.9 255.54,641.9 256.71,641.9 257.89,641.9 259.06,641.9 260.24,641.9 261.41,641.9 262.59,641.9 263.76,641.9 264.35,641.9 264.93,635.98 266.11,624.76 267.28,611.53 267.69,608.2 268.46,608.16 269.63,607.63 270.81,605.77 270.98,605.88 271.98,607.3 273.16,607.32 274.33,607.62 275.51,608.69 276.68,609.92 277.85,610.23 279.03,610.8 279.73,611.17 280.2,612.83 281.38,613.87 282.55,615.74 283.73,618.18 284.08,618.62 284.9,617.74 286.08,614.48 286.31,615.17 287.25,615.1 288.43,614.5 289.6,614.01 290.78,615.33 291.95,615.12 292.83,615.41 293.12,617.43 294.3,628.61 295,634.94 295.47,636.01 296.65,639.94 297.24,641.9 297.82,641.9 299,641.9 300.17,641.9 301.35,641.9 302.52,641.9 303.7,641.9 304.87,641.9 306.05,641.9 307.22,641.9 308.22,641.9 308.39,640.01 309.57,626.98 310.74,614.63 311.45,606.48 311.92,607.2 313.09,606.37 314.27,607.06 315.44,605.16 316.62,605.93 317.79,605.15 318.97,604.71 320.14,603.61 321.32,603.97 322.49,603.51 323.66,604.46 324.84,605.47 326.01,604.81 327.19,606.19 328.36,605.25 329.54,606.48 330.71,607.2 331.89,606.36 332.18,607.49 333.06,607.61 334.24,608.05 335.41,607.87 336.58,609.26 337.76,609.04 338.82,609.69 338.93,609.5 340.11,619.79 340.99,625.51 341.28,628.21 342.46,636.35 343.22,641.9 343.63,641.9 344.81,641.9 345.98,641.9 347.16,641.9 348.33,641.9 349.51,641.9 350.68,641.9 351.85,641.9 353.03,630.94 354.2,619.72 355.2,610.1 355.38,610.95 356.55,610.29 357.73,609.99 358.9,608.13 360.08,608.95 361.25,608.48 362.43,607.36 362.9,607.06 363.6,606.65 364.78,608.13 365.95,607.97 367.12,608.21 368.3,607.66 369.47,608.01 370.65,608.21 371.59,607.54 371.82,607.8 373,606.91 374.17,606.19 375.35,606.75 376.52,605.09 377.7,605.4 378.87,605.41 380.05,603.45 380.4,604.6 380.81,605.06 381.22,613.82 381.92,629.59 382.39,631.39 383.57,639.37 383.98,641.9 384.74,641.9 385.92,641.9 387.09,641.9 388.27,641.9 389.44,641.9 390.62,641.9 391.79,641.9 392.97,641.9 394.14,641.9 395.31,641.9 396.49,641.9 397.49,641.9 397.66,639.77 398.84,624.97 400.01,611.51 400.6,604.23 401.19,603.23 402.36,602.32 403.54,601.6 404.71,600.86 405.89,600.53 406.88,599.5 407.06,599.1 408.24,600.97 409.41,602.39 410.58,603.99 411,604.5 411.76,606.36 412.93,607.48 414.11,607.09 415.28,608.56 416.28,609.98 416.46,609.2 417.63,610.18 418.81,610.49 419.98,610.56 420.39,610.4 421.16,610.39 422.33,611.73 423.51,611.01 424.68,611.57 425.85,612.18 426.68,612.11 427.03,618.22 427.62,630.05 428.2,632.71 429.38,639.51 429.79,641.9 430.55,641.9 431.73,641.9 432.9,641.9 434.08,641.9 435.25,641.9 436.43,641.9 437.6,641.9 438.78,641.9 439.95,641.9 440.18,641.9 441.12,630.84 442.3,617.33 443.3,605.98 443.47,606.6 444.65,604.39 445.82,603.72 447,603.67 448.17,602.4 448.52,601.26 449.35,603.45 450.52,604.51 451.7,605 452.87,606.48 453.75,608.6 454.05,607.92 455.22,609.03 456.39,609.05 457.57,609.39 458.74,610.94 458.98,610.89 459.92,612.01 461.09,613.31 462.27,615.07 463.44,616.29 464.21,616.75 464.62,614.99 465.2,613.07 465.79,612.39 466.97,612.07 468.14,612.94 469.31,613.57 469.43,613.03 470.49,625.14 471.66,632.05 472.84,638.01 473.54,641.9 474.01,641.9 475.19,641.9 476.36,641.9 477.54,641.9 478.71,641.9 479.89,641.9 481.06,641.9 482.24,641.9 483.41,641.9" fill="none" stroke="#111" stroke-width="0.95" stroke-linejoin="round" />
<polyline points="72.3,641.9 74.06,640.58 75.82,639.25 77.59,637.93 78.29,637.4 79.35,636.49 81.11,634.97 82.87,633.45 83.93,632.53 84.63,631.11 86.4,627.53 86.69,626.94 88.16,622.75 89.92,617.71 90.1,617.21 91.68,613 93.44,608.32 94.27,606.14 95.2,603.75 96.97,599.28 98.73,594.81 99.2,593.61 100.49,591.02 102.25,587.49 104.01,583.96 104.72,582.54 105.78,581.06 107.54,578.59 109.3,576.11 111.06,573.64 111.65,572.81 112.82,571.52 114.59,569.57 116.35,567.62 118.11,565.67 118.58,565.15 119.87,564.12 121.63,562.71 123.4,561.3 125.16,559.89 125.57,559.56 126.92,558.61 128.68,557.37 130.44,556.13 132.2,554.92 132.5,555.28 133.97,553.88 135.73,553.8 137.49,552.83 139.25,551.4 139.43,551.57 141.01,550.88 142.78,550.44 144.54,549.77 146.3,549.01 146.42,548.65 148.06,548.92 149.82,547.5 150.59,547.76 151.29,546.96 151.59,546.93 152.76,549.82 153.35,550.35 155.11,552.82 156.11,554.58 156.87,555.66 158.63,557.29 159.63,557.45 160.39,557.47 162.16,558.62 163.92,558.5 165.68,558.21 167.44,557.64 169.2,556.64 169.79,557.36 170.97,556.91 172.73,556.61 174.49,555.81 176.25,555.21 177.19,556.25 178.01,556.62 179.78,556.66 181.54,557.66 182.13,559.01 183.3,558.42 185.06,557.64 186.82,557.34 188,556.86 188.59,556.75 190.35,556.92 192.11,557.07 193.87,556.94 195.63,556.74 197.39,556.73 198.86,556 199.16,556.17 200.92,558.25 201.21,557.86 202.68,561.99 204.21,566.68 204.44,566.7 206.2,568.61 207.97,569.25 209.73,571.23 210.9,572.87 211.49,572.53 213.25,571.21 215.01,570.92 216.78,569.85 217.36,570.22 218.54,569.83 220.3,570.28 222.06,571.59 223.82,571.44 225.59,572.38 227.35,572.2 228.29,572.32 229.11,571.91 230.87,571.68 232.63,570.94 234.39,569.33 236.16,568.54 237.92,568.15 239.68,567.45 241.44,566.35 243.2,566.31 244.97,565.04 246.73,564.89 248.49,564.25 250.25,563.42 252.01,563.78 253.78,564.04 255.54,565.38 257.3,565.02 259.06,566.13 260.82,566.54 262,566.44 262.59,566.59 264.35,567.31 266.11,567.58 267.87,569.06 269.63,569.55 271.39,569.75 273.16,570.86 274.33,571.41 274.92,571.32 276.68,570.66 278.44,570.59 280.2,570.73 281.97,570.43 283.73,570.73 285.49,571.42 287.25,571.51 289.01,571.11 290.78,572.02 292.54,571.44 294.3,572.17 296.06,572.32 297.82,571.85 299.59,572.39 301.35,571.54 303.11,571.7 304.87,572.31 306.63,572.73 308.39,572.92 310.16,572.55 311.92,572.63 312.51,572.86 313.68,572.61 315.44,573.11 317.2,573.08 318.97,574.16 320.73,574.48 322.49,574.36 324.25,574.51 326.01,575.07 326.78,574.68 327.78,576.39 329.54,578.33 330.01,578.68 331.3,579.7 333.06,581.42 334.82,583.69 335.41,584.19 336.58,583.73 338.35,583.92 340.11,584.5 341.87,585.31 343.63,585.08 345.39,585.05 347.16,586.53 348.92,587.86 350.68,587.75 352.44,588.88 354.2,590.87 355.97,591.5 356.32,591.52 357.73,592.66 359.49,593.88 361.25,593.99 363.01,594.9 364.78,596.24 366.54,597.79 368.3,598.54 370.06,600.03 371.65,599.98 371.82,601.41 373.58,604.27 375.35,606.83 375.93,608.65 377.11,614.53 378.58,621.34 378.87,625.46 380.05,641.9 380.63,641.9 382.39,641.9 384.16,641.9 385.92,641.9 387.68,641.9 389.44,641.9 391.2,641.9 392.97,641.9 394.73,641.9 396.49,641.9 398.25,641.9 400.01,641.9 401.78,641.9 403.54,641.9 405.3,641.9 407.06,641.9 408.82,641.9 410.58,641.9 412.35,641.9 414.11,641.9 415.87,641.9 417.63,641.9 419.39,641.9 421.16,641.9 422.92,641.9 424.68,641.9 426.44,641.9 428.2,641.9 429.97,641.9 431.73,641.9 433.49,641.9 435.25,641.9 437.01,641.9 438.78,641.9 440.54,641.9 442.3,641.9 444.06,641.9 445.82,641.9 447.58,641.9 449.35,641.9 451.11,641.9 452.87,641.9 454.63,641.9 456.39,641.9 458.16,641.9 459.92,641.9 461.68,641.9 463.44,641.9 465.2,641.9 466.97,641.9 468.73,641.9 470.49,641.9 472.25,641.9 474.01,641.9 475.78,641.9 477.54,641.9 479.3,641.9 481.06,641.9 482.82,641.9 483.41,641.9" fill="none" stroke="#0a0ae6" stroke-width="2.7" stroke-linejoin="round" />
</g>
<path d="M72.3,544.6H483.5V641.9" stroke="#444" stroke-width="1" fill="none"/>
<path d="M72.3,641.9H483.5" stroke="#333" stroke-width="1.1" fill="none"/>
<path d="M72.3,544.6V641.9" stroke="#2a2ad0" stroke-width="1.1" fill="none"/>
<path d="M131.03,641.9v-2.5M131.03,544.6v2.5 M189.76,641.9v-2.5M189.76,544.6v2.5 M248.49,641.9v-2.5M248.49,544.6v2.5 M307.22,641.9v-2.5M307.22,544.6v2.5 M365.95,641.9v-2.5M365.95,544.6v2.5 M424.68,641.9v-2.5M424.68,544.6v2.5 M483.5,617.57h-2.5 M483.5,593.25h-2.5 M483.5,568.92h-2.5" stroke="#333" stroke-width="0.9"/>
<path d="M72.3,617.57h2.5 M72.3,593.25h2.5 M72.3,568.92h2.5" stroke="#2a2ad0" stroke-width="0.9"/>
<text x="53.8" y="548.9" font-size="8.6" fill="#3535cc" textLength="12.5" lengthAdjust="spacingAndGlyphs" stroke="#3535cc" stroke-width="0.45">80</text>
<text x="53.8" y="573.22" font-size="8.6" fill="#3535cc" textLength="12.5" lengthAdjust="spacingAndGlyphs" stroke="#3535cc" stroke-width="0.45">60</text>
<text x="53.8" y="597.55" font-size="8.6" fill="#3535cc" textLength="12.5" lengthAdjust="spacingAndGlyphs" stroke="#3535cc" stroke-width="0.45">40</text>
<text x="53.8" y="621.87" font-size="8.6" fill="#3535cc" textLength="12.5" lengthAdjust="spacingAndGlyphs" stroke="#3535cc" stroke-width="0.45">20</text>
<text x="60" y="646.2" font-size="8.6" fill="#3535cc" textLength="6.3" lengthAdjust="spacingAndGlyphs" stroke="#3535cc" stroke-width="0.45">0</text>
<text x="489.4" y="548.5" font-size="8.6" fill="#2a2a2a" textLength="19.3" lengthAdjust="spacingAndGlyphs" stroke="#2a2a2a" stroke-width="0.2">300</text>
<text x="489.4" y="572.83" font-size="8.6" fill="#2a2a2a" textLength="19.3" lengthAdjust="spacingAndGlyphs" stroke="#2a2a2a" stroke-width="0.2">225</text>
<text x="489.4" y="597.15" font-size="8.6" fill="#2a2a2a" textLength="19.3" lengthAdjust="spacingAndGlyphs" stroke="#2a2a2a" stroke-width="0.2">150</text>
<text x="489.4" y="621.48" font-size="8.6" fill="#2a2a2a" textLength="13" lengthAdjust="spacingAndGlyphs" stroke="#2a2a2a" stroke-width="0.2">75</text>
<text x="489.4" y="645.8" font-size="8.6" fill="#2a2a2a" textLength="6.3" lengthAdjust="spacingAndGlyphs" stroke="#2a2a2a" stroke-width="0.2">0</text>
<text x="68.85" y="655.2" font-size="8.6" fill="#444" textLength="6.3" lengthAdjust="spacingAndGlyphs" >0</text>
<text x="122.93" y="655.2" font-size="8.6" fill="#444" textLength="15.6" lengthAdjust="spacingAndGlyphs" >0.1</text>
<text x="181.66" y="655.2" font-size="8.6" fill="#444" textLength="15.6" lengthAdjust="spacingAndGlyphs" >0.2</text>
<text x="240.39" y="655.2" font-size="8.6" fill="#444" textLength="15.6" lengthAdjust="spacingAndGlyphs" >0.3</text>
<text x="299.12" y="655.2" font-size="8.6" fill="#444" textLength="15.6" lengthAdjust="spacingAndGlyphs" >0.4</text>
<text x="357.85" y="655.2" font-size="8.6" fill="#444" textLength="15.6" lengthAdjust="spacingAndGlyphs" >0.5</text>
<text x="416.58" y="655.2" font-size="8.6" fill="#444" textLength="15.6" lengthAdjust="spacingAndGlyphs" >0.6</text>
<text x="475.31" y="655.2" font-size="8.6" fill="#444" textLength="15.6" lengthAdjust="spacingAndGlyphs" >0.7</text>
<text x="238" y="665.6" font-size="7" fill="#222" font-weight="bold" textLength="32" lengthAdjust="spacingAndGlyphs" >t (sec)</text>
<text x="231.6" y="539.3" font-size="9" fill="#111" font-weight="bold" textLength="92.3" lengthAdjust="spacingAndGlyphs" >Shot No. 9202</text>
<g transform="translate(39.3,609) rotate(-90)" fill="#3535cc" stroke="#3535cc" stroke-width="0.45"><text x="-0.3" y="0" font-size="13">I</text><text x="3.6" y="6.6" font-size="9.6" textLength="5.4" lengthAdjust="spacingAndGlyphs">P</text><text x="12.1" y="0" font-size="12.5" textLength="18.3" lengthAdjust="spacingAndGlyphs">(kA)</text></g>
<g transform="translate(527.6,634.9) rotate(-90)" fill="#222" stroke="#222" stroke-width="0.15"><text x="0" y="0" font-size="12.5" textLength="7.4" lengthAdjust="spacingAndGlyphs">P</text><text x="7.6" y="5.6" font-size="7.6" textLength="17.2" lengthAdjust="spacingAndGlyphs">LHCD</text><text x="25.1" y="0" font-size="12.5" textLength="14.8" lengthAdjust="spacingAndGlyphs">/P</text><text x="39.2" y="5.6" font-size="7.6" textLength="15.8" lengthAdjust="spacingAndGlyphs">ECRH</text><text x="61.3" y="0" font-size="12.5" textLength="22.4" lengthAdjust="spacingAndGlyphs">(kW)</text></g>
<rect x="372.4" y="553.2" width="99.5" height="45.8" fill="#fff" stroke="#444" stroke-width="0.9"/>
<polyline points="376.9,560.8 404.1,560.8" fill="none" stroke="#0a0ae6" stroke-width="2.4" stroke-linejoin="round" />
<polyline points="376.9,575.5 404.1,575.5" fill="none" stroke="#707070" stroke-width="1.2" stroke-linejoin="round" />
<polyline points="376.9,590.2 404.1,590.2" fill="none" stroke="#f2f060" stroke-width="2.6" stroke-linejoin="round" />
<text x="407.4" y="563.8" font-size="8.6" fill="#222" textLength="3" lengthAdjust="spacingAndGlyphs">I</text>
<text x="410.8" y="566.9" font-size="5.6" fill="#222" textLength="6" lengthAdjust="spacingAndGlyphs">P</text>
<text x="420.5" y="564" font-size="8" fill="#222" textLength="21" lengthAdjust="spacingAndGlyphs">(kA)</text>
<text x="407.2" y="578.6" font-size="8.4" fill="#222" textLength="7" lengthAdjust="spacingAndGlyphs">P</text>
<text x="415.8" y="582.4" font-size="5.6" fill="#222" textLength="23" lengthAdjust="spacingAndGlyphs">LHCD</text>
<text x="442.8" y="579.2" font-size="8" fill="#222" textLength="24.5" lengthAdjust="spacingAndGlyphs">(kW)</text>
<text x="407.2" y="593.4" font-size="8.4" fill="#222" textLength="7" lengthAdjust="spacingAndGlyphs">P</text>
<text x="416" y="597.3" font-size="5.6" fill="#222" textLength="24" lengthAdjust="spacingAndGlyphs">ECRH</text>
<text x="443.4" y="594" font-size="8" fill="#222" textLength="24.5" lengthAdjust="spacingAndGlyphs">(kW)</text>
</g>
</svg></body></html>
